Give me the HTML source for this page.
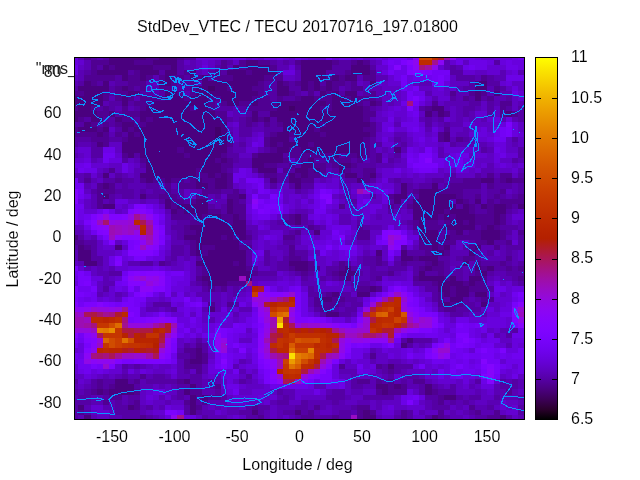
<!DOCTYPE html>
<html><head><meta charset="utf-8"><title>StdDev_VTEC</title>
<style>html,body{margin:0;padding:0;background:#fff}svg{display:block}text{font-family:"Liberation Sans",Arial,sans-serif;font-size:16px;fill:#000;stroke:#fff;stroke-width:.1px}text[stroke=none]{stroke:none;fill:#222}</style></head>
<body>
<svg width="640" height="480" viewBox="0 0 640 480">
<rect width="640" height="480" fill="#fff"/>
<text x="61.5" y="76.81" text-anchor="end" stroke="none" fill="#222">80</text>
<text x="77" y="73.5" text-anchor="end" stroke="none" fill="#222">"rms_</text>
<g shape-rendering="crispEdges">
<rect x="74" y="57" width="451" height="363" fill="#5d01be"/>
<path fill="#43006c" d="M208.4 85.64H214.6V90.79H208.4zM289 106.24H295.2V111.39H289zM214.6 126.84H220.8V131.99H214.6zM214.6 131.99H220.8V137.13H214.6zM214.6 137.13H220.8V142.28H214.6z"/>
<path fill="#4a007f" d="M109.2 58H146.4V59.9H109.2zM158.8 58H177.4V59.9H158.8zM109.2 59.9H134V65.05H109.2zM152.6 59.9H177.4V65.05H152.6zM245.6 59.9H258V65.05H245.6zM301.4 59.9H332.4V65.05H301.4zM357.2 59.9H363.4V65.05H357.2zM103 65.05H109.2V70.2H103zM115.4 65.05H152.6V70.2H115.4zM171.2 65.05H177.4V70.2H171.2zM233.2 65.05H239.4V70.2H233.2zM245.6 65.05H270.4V70.2H245.6zM301.4 65.05H332.4V70.2H301.4zM351 65.05H369.6V70.2H351zM96.8 70.2H127.8V75.35H96.8zM140.2 70.2H158.8V75.35H140.2zM165 70.2H177.4V75.35H165zM189.8 70.2H196V75.35H189.8zM227 70.2H245.6V75.35H227zM251.8 70.2H276.6V75.35H251.8zM301.4 70.2H326.2V75.35H301.4zM351 70.2H369.6V75.35H351zM121.6 75.35H127.8V80.5H121.6zM140.2 75.35H146.4V80.5H140.2zM165 75.35H171.2V80.5H165zM189.8 75.35H196V80.5H189.8zM202.2 75.35H208.4V80.5H202.2zM233.2 75.35H264.2V80.5H233.2zM301.4 75.35H326.2V80.5H301.4zM332.4 75.35H338.6V80.5H332.4zM344.8 75.35H357.2V80.5H344.8zM84.4 80.5H90.6V85.64H84.4zM103 80.5H109.2V85.64H103zM158.8 80.5H171.2V85.64H158.8zM202.2 80.5H258V85.64H202.2zM276.6 80.5H282.8V85.64H276.6zM301.4 80.5H307.6V85.64H301.4zM313.8 80.5H320V85.64H313.8zM326.2 80.5H332.4V85.64H326.2zM369.6 80.5H375.8V85.64H369.6zM475 80.5H487.4V85.64H475zM78.2 85.64H109.2V90.79H78.2zM121.6 85.64H127.8V90.79H121.6zM196 85.64H208.4V90.79H196zM214.6 85.64H227V90.79H214.6zM233.2 85.64H251.8V90.79H233.2zM276.6 85.64H289V90.79H276.6zM301.4 85.64H307.6V90.79H301.4zM313.8 85.64H320V90.79H313.8zM326.2 85.64H332.4V90.79H326.2zM475 85.64H487.4V90.79H475zM84.4 90.79H103V95.94H84.4zM127.8 90.79H140.2V95.94H127.8zM165 90.79H177.4V95.94H165zM196 90.79H258V95.94H196zM276.6 90.79H289V95.94H276.6zM320 90.79H326.2V95.94H320zM332.4 90.79H338.6V95.94H332.4zM344.8 90.79H357.2V95.94H344.8zM475 90.79H481.2V95.94H475zM493.6 90.79H499.8V95.94H493.6zM75 95.94H103V101.09H75zM121.6 95.94H127.8V101.09H121.6zM165 95.94H183.6V101.09H165zM189.8 95.94H208.4V101.09H189.8zM220.8 95.94H251.8V101.09H220.8zM301.4 95.94H313.8V101.09H301.4zM332.4 95.94H344.8V101.09H332.4zM351 95.94H357.2V101.09H351zM475 95.94H481.2V101.09H475zM75 101.09H103V106.24H75zM121.6 101.09H127.8V106.24H121.6zM152.6 101.09H208.4V106.24H152.6zM227 101.09H239.4V106.24H227zM251.8 101.09H258V106.24H251.8zM276.6 101.09H326.2V106.24H276.6zM332.4 101.09H357.2V106.24H332.4zM369.6 101.09H375.8V106.24H369.6zM78.2 106.24H90.6V111.39H78.2zM146.4 106.24H189.8V111.39H146.4zM196 106.24H208.4V111.39H196zM276.6 106.24H289V111.39H276.6zM295.2 106.24H320V111.39H295.2zM332.4 106.24H363.4V111.39H332.4zM431.6 106.24H444V111.39H431.6zM75 111.39H96.8V116.54H75zM109.2 111.39H115.4V116.54H109.2zM140.2 111.39H214.6V116.54H140.2zM251.8 111.39H258V116.54H251.8zM270.4 111.39H363.4V116.54H270.4zM425.4 111.39H431.6V116.54H425.4zM437.8 111.39H444V116.54H437.8zM506 111.39H512.2V116.54H506zM75 116.54H78.2V121.69H75zM90.6 116.54H103V121.69H90.6zM115.4 116.54H121.6V121.69H115.4zM140.2 116.54H146.4V121.69H140.2zM152.6 116.54H220.8V121.69H152.6zM251.8 116.54H258V121.69H251.8zM264.2 116.54H270.4V121.69H264.2zM276.6 116.54H363.4V121.69H276.6zM84.4 121.69H90.6V126.84H84.4zM121.6 121.69H134V126.84H121.6zM146.4 121.69H227V126.84H146.4zM282.8 121.69H320V126.84H282.8zM326.2 121.69H369.6V126.84H326.2zM78.2 126.84H96.8V131.99H78.2zM103 126.84H109.2V131.99H103zM121.6 126.84H127.8V131.99H121.6zM134 126.84H214.6V131.99H134zM220.8 126.84H227V131.99H220.8zM282.8 126.84H313.8V131.99H282.8zM320 126.84H363.4V131.99H320zM96.8 131.99H103V137.13H96.8zM127.8 131.99H134V137.13H127.8zM140.2 131.99H214.6V137.13H140.2zM220.8 131.99H227V137.13H220.8zM276.6 131.99H289V137.13H276.6zM295.2 131.99H320V137.13H295.2zM326.2 131.99H369.6V137.13H326.2zM444 131.99H450.2V137.13H444zM127.8 137.13H214.6V142.28H127.8zM220.8 137.13H227V142.28H220.8zM270.4 137.13H289V142.28H270.4zM295.2 137.13H363.4V142.28H295.2zM444 137.13H450.2V142.28H444zM96.8 142.28H103V147.43H96.8zM121.6 142.28H227V147.43H121.6zM270.4 142.28H276.6V147.43H270.4zM282.8 142.28H307.6V147.43H282.8zM313.8 142.28H363.4V147.43H313.8zM121.6 147.43H177.4V152.58H121.6zM183.6 147.43H227V152.58H183.6zM276.6 147.43H289V152.58H276.6zM301.4 147.43H363.4V152.58H301.4zM394.4 147.43H400.6V152.58H394.4zM127.8 152.58H134V157.73H127.8zM140.2 152.58H183.6V157.73H140.2zM189.8 152.58H220.8V157.73H189.8zM258 152.58H282.8V157.73H258zM332.4 152.58H338.6V157.73H332.4zM357.2 152.58H363.4V157.73H357.2zM146.4 157.73H214.6V162.88H146.4zM220.8 157.73H227V162.88H220.8zM251.8 157.73H282.8V162.88H251.8zM307.6 157.73H313.8V162.88H307.6zM146.4 162.88H220.8V168.03H146.4zM251.8 162.88H264.2V168.03H251.8zM301.4 162.88H313.8V168.03H301.4zM338.6 162.88H351V168.03H338.6zM146.4 168.03H196V173.18H146.4zM202.2 168.03H220.8V173.18H202.2zM258 168.03H276.6V173.18H258zM295.2 168.03H307.6V173.18H295.2zM313.8 168.03H320V173.18H313.8zM338.6 168.03H344.8V173.18H338.6zM103 173.18H109.2V178.33H103zM140.2 173.18H196V178.33H140.2zM208.4 173.18H214.6V178.33H208.4zM220.8 173.18H227V178.33H220.8zM289 173.18H295.2V178.33H289zM301.4 173.18H307.6V178.33H301.4zM344.8 173.18H357.2V178.33H344.8zM369.6 173.18H375.8V178.33H369.6zM146.4 178.33H152.6V183.48H146.4zM165 178.33H171.2V183.48H165zM196 178.33H202.2V183.48H196zM214.6 178.33H227V183.48H214.6zM270.4 178.33H276.6V183.48H270.4zM289 178.33H301.4V183.48H289zM357.2 178.33H363.4V183.48H357.2zM481.2 178.33H493.6V183.48H481.2zM506 178.33H512.2V183.48H506zM103 183.48H109.2V188.62H103zM196 183.48H208.4V188.62H196zM214.6 183.48H227V188.62H214.6zM295.2 183.48H301.4V188.62H295.2zM400.6 183.48H406.8V188.62H400.6zM431.6 183.48H437.8V188.62H431.6zM400.6 188.62H406.8V193.77H400.6zM419.2 188.62H437.8V193.77H419.2zM103 193.77H109.2V198.92H103zM140.2 193.77H146.4V198.92H140.2zM239.4 193.77H245.6V198.92H239.4zM394.4 193.77H406.8V198.92H394.4zM419.2 193.77H456.4V198.92H419.2zM165 198.92H171.2V204.07H165zM196 198.92H208.4V204.07H196zM227 198.92H233.2V204.07H227zM394.4 198.92H400.6V204.07H394.4zM413 198.92H450.2V204.07H413zM456.4 198.92H462.6V204.07H456.4zM475 198.92H481.2V204.07H475zM103 204.07H115.4V209.22H103zM165 204.07H171.2V209.22H165zM177.4 204.07H208.4V209.22H177.4zM227 204.07H233.2V209.22H227zM413 204.07H456.4V209.22H413zM462.6 204.07H468.8V209.22H462.6zM481.2 204.07H487.4V209.22H481.2zM493.6 204.07H506V209.22H493.6zM518.4 204.07H524V209.22H518.4zM171.2 209.22H177.4V214.37H171.2zM183.6 209.22H208.4V214.37H183.6zM227 209.22H233.2V214.37H227zM413 209.22H444V214.37H413zM450.2 209.22H468.8V214.37H450.2zM493.6 209.22H506V214.37H493.6zM196 214.37H202.2V219.52H196zM208.4 214.37H220.8V219.52H208.4zM233.2 214.37H239.4V219.52H233.2zM295.2 214.37H301.4V219.52H295.2zM413 214.37H437.8V219.52H413zM444 214.37H450.2V219.52H444zM456.4 214.37H475V219.52H456.4zM493.6 214.37H499.8V219.52H493.6zM202.2 219.52H227V224.67H202.2zM233.2 219.52H245.6V224.67H233.2zM295.2 219.52H301.4V224.67H295.2zM419.2 219.52H425.4V224.67H419.2zM450.2 219.52H462.6V224.67H450.2zM468.8 219.52H475V224.67H468.8zM493.6 219.52H499.8V224.67H493.6zM189.8 224.67H245.6V229.82H189.8zM419.2 224.67H425.4V229.82H419.2zM444 224.67H475V229.82H444zM487.4 224.67H493.6V229.82H487.4zM196 229.82H245.6V234.97H196zM313.8 229.82H320V234.97H313.8zM419.2 229.82H437.8V234.97H419.2zM456.4 229.82H462.6V234.97H456.4zM481.2 229.82H499.8V234.97H481.2zM75 234.97H78.2V240.12H75zM183.6 234.97H220.8V240.12H183.6zM227 234.97H233.2V240.12H227zM239.4 234.97H245.6V240.12H239.4zM419.2 234.97H437.8V240.12H419.2zM444 234.97H450.2V240.12H444zM481.2 234.97H499.8V240.12H481.2zM196 240.12H239.4V245.26H196zM425.4 240.12H437.8V245.26H425.4zM487.4 240.12H493.6V245.26H487.4zM78.2 245.26H84.4V250.41H78.2zM115.4 245.26H121.6V250.41H115.4zM196 245.26H202.2V250.41H196zM214.6 245.26H239.4V250.41H214.6zM431.6 245.26H437.8V250.41H431.6zM444 245.26H450.2V250.41H444zM475 245.26H481.2V250.41H475zM78.2 250.41H90.6V255.56H78.2zM196 250.41H202.2V255.56H196zM208.4 250.41H245.6V255.56H208.4zM375.8 250.41H382V255.56H375.8zM400.6 250.41H406.8V255.56H400.6zM431.6 250.41H444V255.56H431.6zM468.8 250.41H475V255.56H468.8zM78.2 255.56H90.6V260.71H78.2zM202.2 255.56H245.6V260.71H202.2zM400.6 255.56H413V260.71H400.6zM419.2 255.56H437.8V260.71H419.2zM84.4 260.71H96.8V265.86H84.4zM196 260.71H233.2V265.86H196zM239.4 260.71H245.6V265.86H239.4zM289 260.71H307.6V265.86H289zM431.6 260.71H437.8V265.86H431.6zM462.6 260.71H468.8V265.86H462.6zM208.4 265.86H245.6V271.01H208.4zM295.2 265.86H307.6V271.01H295.2zM344.8 265.86H351V271.01H344.8zM425.4 265.86H431.6V271.01H425.4zM475 265.86H481.2V271.01H475zM487.4 265.86H493.6V271.01H487.4zM208.4 271.01H251.8V276.16H208.4zM338.6 271.01H357.2V276.16H338.6zM419.2 271.01H425.4V276.16H419.2zM481.2 271.01H487.4V276.16H481.2zM202.2 276.16H239.4V281.31H202.2zM245.6 276.16H251.8V281.31H245.6zM344.8 276.16H351V281.31H344.8zM419.2 276.16H444V281.31H419.2zM450.2 276.16H456.4V281.31H450.2zM468.8 276.16H481.2V281.31H468.8zM208.4 281.31H227V286.46H208.4zM437.8 281.31H462.6V286.46H437.8zM468.8 281.31H475V286.46H468.8zM369.6 286.46H375.8V291.61H369.6zM437.8 286.46H450.2V291.61H437.8zM456.4 286.46H468.8V291.61H456.4zM332.4 291.61H338.6V296.75H332.4zM357.2 291.61H369.6V296.75H357.2zM444 291.61H450.2V296.75H444zM456.4 291.61H468.8V296.75H456.4zM475 291.61H487.4V296.75H475zM320 296.75H332.4V301.9H320zM450.2 296.75H462.6V301.9H450.2zM444 301.9H450.2V307.05H444zM481.2 301.9H487.4V307.05H481.2zM208.4 307.05H214.6V312.2H208.4zM326.2 312.2H338.6V317.35H326.2zM406.8 337.95H413V343.09H406.8zM400.6 343.09H406.8V348.24H400.6zM196 348.24H202.2V353.39H196zM196 353.39H202.2V358.54H196zM189.8 358.54H202.2V363.69H189.8zM388.2 363.69H394.4V368.84H388.2zM115.4 379.14H127.8V384.29H115.4zM183.6 379.14H189.8V384.29H183.6zM115.4 384.29H134V389.44H115.4zM189.8 384.29H196V389.44H189.8zM375.8 384.29H388.2V389.44H375.8zM394.4 384.29H400.6V389.44H394.4zM425.4 384.29H431.6V389.44H425.4zM96.8 389.44H103V394.58H96.8zM109.2 389.44H134V394.58H109.2zM183.6 389.44H189.8V394.58H183.6zM382 389.44H388.2V394.58H382zM425.4 389.44H431.6V394.58H425.4zM189.8 394.58H196V399.73H189.8zM202.2 394.58H208.4V399.73H202.2zM444 394.58H456.4V399.73H444zM189.8 399.73H196V404.88H189.8zM78.2 404.88H84.4V410.03H78.2zM127.8 404.88H134V410.03H127.8zM189.8 404.88H196V410.03H189.8zM189.8 410.03H196V415.18H189.8zM251.8 410.03H258V415.18H251.8zM295.2 410.03H301.4V415.18H295.2zM363.4 410.03H369.6V415.18H363.4zM84.4 415.18H90.6V419H84.4zM363.4 415.18H375.8V419H363.4zM431.6 415.18H437.8V419H431.6zM499.8 415.18H506V419H499.8z"/>
<path fill="#500092" d="M84.4 58H90.6V59.9H84.4zM146.4 58H158.8V59.9H146.4zM177.4 58H183.6V59.9H177.4zM90.6 59.9H109.2V65.05H90.6zM134 59.9H152.6V65.05H134zM220.8 59.9H227V65.05H220.8zM239.4 59.9H245.6V65.05H239.4zM258 59.9H270.4V65.05H258zM295.2 59.9H301.4V65.05H295.2zM332.4 59.9H338.6V65.05H332.4zM351 59.9H357.2V65.05H351zM363.4 59.9H369.6V65.05H363.4zM90.6 65.05H96.8V70.2H90.6zM109.2 65.05H115.4V70.2H109.2zM152.6 65.05H171.2V70.2H152.6zM220.8 65.05H227V70.2H220.8zM239.4 65.05H245.6V70.2H239.4zM270.4 65.05H276.6V70.2H270.4zM90.6 70.2H96.8V75.35H90.6zM134 70.2H140.2V75.35H134zM183.6 70.2H189.8V75.35H183.6zM214.6 70.2H220.8V75.35H214.6zM245.6 70.2H251.8V75.35H245.6zM344.8 70.2H351V75.35H344.8zM369.6 70.2H375.8V75.35H369.6zM84.4 75.35H115.4V80.5H84.4zM127.8 75.35H140.2V80.5H127.8zM146.4 75.35H152.6V80.5H146.4zM158.8 75.35H165V80.5H158.8zM171.2 75.35H183.6V80.5H171.2zM196 75.35H202.2V80.5H196zM214.6 75.35H233.2V80.5H214.6zM264.2 75.35H282.8V80.5H264.2zM326.2 75.35H332.4V80.5H326.2zM338.6 75.35H344.8V80.5H338.6zM363.4 75.35H375.8V80.5H363.4zM481.2 75.35H487.4V80.5H481.2zM90.6 80.5H96.8V85.64H90.6zM127.8 80.5H146.4V85.64H127.8zM171.2 80.5H177.4V85.64H171.2zM189.8 80.5H196V85.64H189.8zM258 80.5H264.2V85.64H258zM282.8 80.5H289V85.64H282.8zM295.2 80.5H301.4V85.64H295.2zM307.6 80.5H313.8V85.64H307.6zM332.4 80.5H344.8V85.64H332.4zM351 80.5H357.2V85.64H351zM115.4 85.64H121.6V90.79H115.4zM127.8 85.64H134V90.79H127.8zM140.2 85.64H146.4V90.79H140.2zM158.8 85.64H171.2V90.79H158.8zM189.8 85.64H196V90.79H189.8zM227 85.64H233.2V90.79H227zM251.8 85.64H264.2V90.79H251.8zM307.6 85.64H313.8V90.79H307.6zM320 85.64H326.2V90.79H320zM332.4 85.64H338.6V90.79H332.4zM351 85.64H363.4V90.79H351zM493.6 85.64H499.8V90.79H493.6zM75 90.79H84.4V95.94H75zM103 90.79H109.2V95.94H103zM115.4 90.79H127.8V95.94H115.4zM177.4 90.79H183.6V95.94H177.4zM189.8 90.79H196V95.94H189.8zM258 90.79H264.2V95.94H258zM289 90.79H295.2V95.94H289zM307.6 90.79H313.8V95.94H307.6zM326.2 90.79H332.4V95.94H326.2zM369.6 90.79H375.8V95.94H369.6zM450.2 90.79H456.4V95.94H450.2zM468.8 90.79H475V95.94H468.8zM481.2 90.79H487.4V95.94H481.2zM103 95.94H109.2V101.09H103zM115.4 95.94H121.6V101.09H115.4zM127.8 95.94H134V101.09H127.8zM140.2 95.94H165V101.09H140.2zM183.6 95.94H189.8V101.09H183.6zM208.4 95.94H220.8V101.09H208.4zM251.8 95.94H270.4V101.09H251.8zM276.6 95.94H282.8V101.09H276.6zM295.2 95.94H301.4V101.09H295.2zM313.8 95.94H332.4V101.09H313.8zM344.8 95.94H351V101.09H344.8zM357.2 95.94H375.8V101.09H357.2zM462.6 95.94H468.8V101.09H462.6zM487.4 95.94H493.6V101.09H487.4zM134 101.09H152.6V106.24H134zM208.4 101.09H214.6V106.24H208.4zM220.8 101.09H227V106.24H220.8zM239.4 101.09H251.8V106.24H239.4zM258 101.09H276.6V106.24H258zM326.2 101.09H332.4V106.24H326.2zM357.2 101.09H363.4V106.24H357.2zM375.8 101.09H382V106.24H375.8zM431.6 101.09H437.8V106.24H431.6zM499.8 101.09H512.2V106.24H499.8zM75 106.24H78.2V111.39H75zM90.6 106.24H96.8V111.39H90.6zM103 106.24H109.2V111.39H103zM121.6 106.24H127.8V111.39H121.6zM140.2 106.24H146.4V111.39H140.2zM189.8 106.24H196V111.39H189.8zM208.4 106.24H214.6V111.39H208.4zM245.6 106.24H276.6V111.39H245.6zM320 106.24H332.4V111.39H320zM363.4 106.24H369.6V111.39H363.4zM425.4 106.24H431.6V111.39H425.4zM499.8 106.24H506V111.39H499.8zM96.8 111.39H109.2V116.54H96.8zM121.6 111.39H140.2V116.54H121.6zM214.6 111.39H227V116.54H214.6zM363.4 111.39H375.8V116.54H363.4zM444 111.39H450.2V116.54H444zM499.8 111.39H506V116.54H499.8zM512.2 111.39H518.4V116.54H512.2zM78.2 116.54H84.4V121.69H78.2zM121.6 116.54H134V121.69H121.6zM146.4 116.54H152.6V121.69H146.4zM220.8 116.54H227V121.69H220.8zM245.6 116.54H251.8V121.69H245.6zM258 116.54H264.2V121.69H258zM363.4 116.54H369.6V121.69H363.4zM90.6 121.69H96.8V126.84H90.6zM103 121.69H109.2V126.84H103zM115.4 121.69H121.6V126.84H115.4zM134 121.69H146.4V126.84H134zM245.6 121.69H251.8V126.84H245.6zM264.2 121.69H270.4V126.84H264.2zM276.6 121.69H282.8V126.84H276.6zM320 121.69H326.2V126.84H320zM369.6 121.69H375.8V126.84H369.6zM75 126.84H78.2V131.99H75zM96.8 126.84H103V131.99H96.8zM127.8 126.84H134V131.99H127.8zM313.8 126.84H320V131.99H313.8zM363.4 126.84H375.8V131.99H363.4zM444 126.84H450.2V131.99H444zM75 131.99H96.8V137.13H75zM103 131.99H109.2V137.13H103zM115.4 131.99H121.6V137.13H115.4zM134 131.99H140.2V137.13H134zM270.4 131.99H276.6V137.13H270.4zM289 131.99H295.2V137.13H289zM320 131.99H326.2V137.13H320zM369.6 131.99H375.8V137.13H369.6zM437.8 131.99H444V137.13H437.8zM90.6 137.13H109.2V142.28H90.6zM121.6 137.13H127.8V142.28H121.6zM227 137.13H233.2V142.28H227zM264.2 137.13H270.4V142.28H264.2zM363.4 137.13H369.6V142.28H363.4zM437.8 137.13H444V142.28H437.8zM456.4 137.13H462.6V142.28H456.4zM103 142.28H109.2V147.43H103zM227 142.28H233.2V147.43H227zM264.2 142.28H270.4V147.43H264.2zM276.6 142.28H282.8V147.43H276.6zM307.6 142.28H313.8V147.43H307.6zM363.4 142.28H369.6V147.43H363.4zM177.4 147.43H183.6V152.58H177.4zM270.4 147.43H276.6V152.58H270.4zM289 147.43H301.4V152.58H289zM363.4 147.43H369.6V152.58H363.4zM121.6 152.58H127.8V157.73H121.6zM183.6 152.58H189.8V157.73H183.6zM220.8 152.58H227V157.73H220.8zM251.8 152.58H258V157.73H251.8zM289 152.58H332.4V157.73H289zM344.8 152.58H357.2V157.73H344.8zM363.4 152.58H369.6V157.73H363.4zM375.8 152.58H382V157.73H375.8zM140.2 157.73H146.4V162.88H140.2zM214.6 157.73H220.8V162.88H214.6zM227 157.73H233.2V162.88H227zM282.8 157.73H289V162.88H282.8zM301.4 157.73H307.6V162.88H301.4zM326.2 157.73H351V162.88H326.2zM357.2 157.73H363.4V162.88H357.2zM375.8 157.73H382V162.88H375.8zM220.8 162.88H233.2V168.03H220.8zM264.2 162.88H276.6V168.03H264.2zM289 162.88H295.2V168.03H289zM313.8 162.88H326.2V168.03H313.8zM332.4 162.88H338.6V168.03H332.4zM351 162.88H357.2V168.03H351zM109.2 168.03H115.4V173.18H109.2zM196 168.03H202.2V173.18H196zM220.8 168.03H227V173.18H220.8zM282.8 168.03H289V173.18H282.8zM307.6 168.03H313.8V173.18H307.6zM320 168.03H326.2V173.18H320zM344.8 168.03H351V173.18H344.8zM363.4 168.03H375.8V173.18H363.4zM196 173.18H208.4V178.33H196zM214.6 173.18H220.8V178.33H214.6zM227 173.18H233.2V178.33H227zM264.2 173.18H276.6V178.33H264.2zM295.2 173.18H301.4V178.33H295.2zM307.6 173.18H320V178.33H307.6zM363.4 173.18H369.6V178.33H363.4zM487.4 173.18H493.6V178.33H487.4zM499.8 173.18H512.2V178.33H499.8zM84.4 178.33H90.6V183.48H84.4zM115.4 178.33H121.6V183.48H115.4zM140.2 178.33H146.4V183.48H140.2zM152.6 178.33H165V183.48H152.6zM171.2 178.33H183.6V183.48H171.2zM189.8 178.33H196V183.48H189.8zM202.2 178.33H214.6V183.48H202.2zM227 178.33H233.2V183.48H227zM301.4 178.33H313.8V183.48H301.4zM363.4 178.33H369.6V183.48H363.4zM462.6 178.33H481.2V183.48H462.6zM499.8 178.33H506V183.48H499.8zM512.2 178.33H524V183.48H512.2zM96.8 183.48H103V188.62H96.8zM109.2 183.48H115.4V188.62H109.2zM165 183.48H171.2V188.62H165zM177.4 183.48H196V188.62H177.4zM208.4 183.48H214.6V188.62H208.4zM227 183.48H233.2V188.62H227zM450.2 183.48H481.2V188.62H450.2zM487.4 183.48H493.6V188.62H487.4zM96.8 188.62H115.4V193.77H96.8zM165 188.62H171.2V193.77H165zM202.2 188.62H220.8V193.77H202.2zM233.2 188.62H239.4V193.77H233.2zM413 188.62H419.2V193.77H413zM437.8 188.62H462.6V193.77H437.8zM499.8 188.62H506V193.77H499.8zM96.8 193.77H103V198.92H96.8zM158.8 193.77H177.4V198.92H158.8zM196 193.77H208.4V198.92H196zM227 193.77H239.4V198.92H227zM388.2 193.77H394.4V198.92H388.2zM456.4 193.77H462.6V198.92H456.4zM475 193.77H481.2V198.92H475zM493.6 193.77H499.8V198.92H493.6zM518.4 193.77H524V198.92H518.4zM96.8 198.92H103V204.07H96.8zM171.2 198.92H183.6V204.07H171.2zM189.8 198.92H196V204.07H189.8zM233.2 198.92H239.4V204.07H233.2zM462.6 198.92H468.8V204.07H462.6zM487.4 198.92H493.6V204.07H487.4zM499.8 198.92H524V204.07H499.8zM96.8 204.07H103V209.22H96.8zM171.2 204.07H177.4V209.22H171.2zM233.2 204.07H245.6V209.22H233.2zM338.6 204.07H344.8V209.22H338.6zM388.2 204.07H394.4V209.22H388.2zM406.8 204.07H413V209.22H406.8zM468.8 204.07H475V209.22H468.8zM487.4 204.07H493.6V209.22H487.4zM506 204.07H512.2V209.22H506zM177.4 209.22H183.6V214.37H177.4zM208.4 209.22H220.8V214.37H208.4zM233.2 209.22H245.6V214.37H233.2zM444 209.22H450.2V214.37H444zM468.8 209.22H475V214.37H468.8zM487.4 209.22H493.6V214.37H487.4zM171.2 214.37H189.8V219.52H171.2zM202.2 214.37H208.4V219.52H202.2zM220.8 214.37H233.2V219.52H220.8zM239.4 214.37H245.6V219.52H239.4zM289 214.37H295.2V219.52H289zM437.8 214.37H444V219.52H437.8zM450.2 214.37H456.4V219.52H450.2zM475 214.37H493.6V219.52H475zM499.8 214.37H506V219.52H499.8zM189.8 219.52H202.2V224.67H189.8zM227 219.52H233.2V224.67H227zM282.8 219.52H295.2V224.67H282.8zM413 219.52H419.2V224.67H413zM425.4 219.52H437.8V224.67H425.4zM444 219.52H450.2V224.67H444zM462.6 219.52H468.8V224.67H462.6zM475 219.52H493.6V224.67H475zM499.8 219.52H506V224.67H499.8zM183.6 224.67H189.8V229.82H183.6zM307.6 224.67H313.8V229.82H307.6zM357.2 224.67H363.4V229.82H357.2zM413 224.67H419.2V229.82H413zM425.4 224.67H444V229.82H425.4zM481.2 224.67H487.4V229.82H481.2zM493.6 224.67H499.8V229.82H493.6zM183.6 229.82H196V234.97H183.6zM295.2 229.82H301.4V234.97H295.2zM357.2 229.82H369.6V234.97H357.2zM450.2 229.82H456.4V234.97H450.2zM468.8 229.82H481.2V234.97H468.8zM499.8 229.82H506V234.97H499.8zM518.4 229.82H524V234.97H518.4zM220.8 234.97H227V240.12H220.8zM233.2 234.97H239.4V240.12H233.2zM245.6 234.97H251.8V240.12H245.6zM282.8 234.97H295.2V240.12H282.8zM357.2 234.97H369.6V240.12H357.2zM450.2 234.97H481.2V240.12H450.2zM499.8 234.97H506V240.12H499.8zM75 240.12H84.4V245.26H75zM189.8 240.12H196V245.26H189.8zM419.2 240.12H425.4V245.26H419.2zM437.8 240.12H456.4V245.26H437.8zM475 240.12H487.4V245.26H475zM506 240.12H512.2V245.26H506zM84.4 245.26H90.6V250.41H84.4zM189.8 245.26H196V250.41H189.8zM202.2 245.26H214.6V250.41H202.2zM239.4 245.26H251.8V250.41H239.4zM289 245.26H295.2V250.41H289zM419.2 245.26H431.6V250.41H419.2zM437.8 245.26H444V250.41H437.8zM468.8 245.26H475V250.41H468.8zM493.6 245.26H499.8V250.41H493.6zM189.8 250.41H196V255.56H189.8zM202.2 250.41H208.4V255.56H202.2zM289 250.41H295.2V255.56H289zM425.4 250.41H431.6V255.56H425.4zM444 250.41H450.2V255.56H444zM289 255.56H301.4V260.71H289zM375.8 255.56H382V260.71H375.8zM413 255.56H419.2V260.71H413zM462.6 255.56H475V260.71H462.6zM506 255.56H512.2V260.71H506zM158.8 260.71H165V265.86H158.8zM233.2 260.71H239.4V265.86H233.2zM307.6 260.71H313.8V265.86H307.6zM338.6 260.71H344.8V265.86H338.6zM375.8 260.71H382V265.86H375.8zM400.6 260.71H406.8V265.86H400.6zM425.4 260.71H431.6V265.86H425.4zM437.8 260.71H444V265.86H437.8zM475 260.71H481.2V265.86H475zM499.8 260.71H506V265.86H499.8zM202.2 265.86H208.4V271.01H202.2zM245.6 265.86H251.8V271.01H245.6zM289 265.86H295.2V271.01H289zM307.6 265.86H320V271.01H307.6zM338.6 265.86H344.8V271.01H338.6zM419.2 265.86H425.4V271.01H419.2zM431.6 265.86H444V271.01H431.6zM481.2 265.86H487.4V271.01H481.2zM506 265.86H512.2V271.01H506zM518.4 265.86H524V271.01H518.4zM202.2 271.01H208.4V276.16H202.2zM251.8 271.01H258V276.16H251.8zM301.4 271.01H307.6V276.16H301.4zM332.4 271.01H338.6V276.16H332.4zM388.2 271.01H394.4V276.16H388.2zM437.8 271.01H444V276.16H437.8zM475 271.01H481.2V276.16H475zM196 276.16H202.2V281.31H196zM338.6 276.16H344.8V281.31H338.6zM375.8 276.16H382V281.31H375.8zM413 276.16H419.2V281.31H413zM444 276.16H450.2V281.31H444zM481.2 276.16H487.4V281.31H481.2zM518.4 276.16H524V281.31H518.4zM202.2 281.31H208.4V286.46H202.2zM227 281.31H245.6V286.46H227zM431.6 281.31H437.8V286.46H431.6zM462.6 281.31H468.8V286.46H462.6zM475 281.31H487.4V286.46H475zM208.4 286.46H214.6V291.61H208.4zM220.8 286.46H227V291.61H220.8zM357.2 286.46H369.6V291.61H357.2zM375.8 286.46H382V291.61H375.8zM450.2 286.46H456.4V291.61H450.2zM468.8 286.46H487.4V291.61H468.8zM326.2 291.61H332.4V296.75H326.2zM437.8 291.61H444V296.75H437.8zM450.2 291.61H456.4V296.75H450.2zM313.8 296.75H320V301.9H313.8zM332.4 296.75H344.8V301.9H332.4zM437.8 296.75H444V301.9H437.8zM481.2 296.75H493.6V301.9H481.2zM208.4 301.9H214.6V307.05H208.4zM227 301.9H233.2V307.05H227zM313.8 301.9H338.6V307.05H313.8zM437.8 301.9H444V307.05H437.8zM450.2 301.9H462.6V307.05H450.2zM320 307.05H332.4V312.2H320zM444 307.05H456.4V312.2H444zM196 343.09H202.2V348.24H196zM183.6 348.24H196V353.39H183.6zM189.8 353.39H196V358.54H189.8zM202.2 353.39H208.4V358.54H202.2zM369.6 353.39H375.8V358.54H369.6zM183.6 358.54H189.8V363.69H183.6zM202.2 358.54H208.4V363.69H202.2zM183.6 363.69H202.2V368.84H183.6zM338.6 363.69H344.8V368.84H338.6zM375.8 363.69H382V368.84H375.8zM196 368.84H202.2V373.99H196zM388.2 368.84H394.4V373.99H388.2zM140.2 373.99H146.4V379.14H140.2zM96.8 379.14H103V384.29H96.8zM134 379.14H140.2V384.29H134zM177.4 379.14H183.6V384.29H177.4zM357.2 379.14H369.6V384.29H357.2zM375.8 379.14H382V384.29H375.8zM388.2 379.14H394.4V384.29H388.2zM413 379.14H425.4V384.29H413zM96.8 384.29H103V389.44H96.8zM109.2 384.29H115.4V389.44H109.2zM214.6 384.29H220.8V389.44H214.6zM388.2 384.29H394.4V389.44H388.2zM400.6 384.29H406.8V389.44H400.6zM90.6 389.44H96.8V394.58H90.6zM103 389.44H109.2V394.58H103zM134 389.44H140.2V394.58H134zM189.8 389.44H202.2V394.58H189.8zM375.8 389.44H382V394.58H375.8zM388.2 389.44H406.8V394.58H388.2zM431.6 389.44H437.8V394.58H431.6zM506 389.44H512.2V394.58H506zM109.2 394.58H121.6V399.73H109.2zM196 394.58H202.2V399.73H196zM208.4 394.58H220.8V399.73H208.4zM437.8 394.58H444V399.73H437.8zM103 399.73H109.2V404.88H103zM134 399.73H140.2V404.88H134zM183.6 399.73H189.8V404.88H183.6zM202.2 399.73H208.4V404.88H202.2zM437.8 399.73H444V404.88H437.8zM134 404.88H140.2V410.03H134zM196 404.88H202.2V410.03H196zM251.8 404.88H258V410.03H251.8zM313.8 404.88H320V410.03H313.8zM357.2 404.88H369.6V410.03H357.2zM468.8 404.88H475V410.03H468.8zM78.2 410.03H84.4V415.18H78.2zM307.6 410.03H313.8V415.18H307.6zM357.2 410.03H363.4V415.18H357.2zM369.6 410.03H375.8V415.18H369.6zM400.6 410.03H406.8V415.18H400.6zM437.8 410.03H444V415.18H437.8zM475 410.03H481.2V415.18H475zM493.6 410.03H499.8V415.18H493.6zM140.2 415.18H146.4V419H140.2zM258 415.18H264.2V419H258zM301.4 415.18H313.8V419H301.4zM332.4 415.18H338.6V419H332.4zM357.2 415.18H363.4V419H357.2zM400.6 415.18H406.8V419H400.6zM437.8 415.18H444V419H437.8zM487.4 415.18H499.8V419H487.4z"/>
<path fill="#5500a4" d="M90.6 58H96.8V59.9H90.6zM103 58H109.2V59.9H103zM183.6 58H196V59.9H183.6zM177.4 59.9H183.6V65.05H177.4zM227 59.9H233.2V65.05H227zM270.4 59.9H276.6V65.05H270.4zM282.8 59.9H289V65.05H282.8zM338.6 59.9H351V65.05H338.6zM493.6 59.9H499.8V65.05H493.6zM96.8 65.05H103V70.2H96.8zM177.4 65.05H183.6V70.2H177.4zM214.6 65.05H220.8V70.2H214.6zM295.2 65.05H301.4V70.2H295.2zM332.4 65.05H351V70.2H332.4zM369.6 65.05H375.8V70.2H369.6zM450.2 65.05H456.4V70.2H450.2zM84.4 70.2H90.6V75.35H84.4zM127.8 70.2H134V75.35H127.8zM158.8 70.2H165V75.35H158.8zM177.4 70.2H183.6V75.35H177.4zM208.4 70.2H214.6V75.35H208.4zM220.8 70.2H227V75.35H220.8zM276.6 70.2H282.8V75.35H276.6zM326.2 70.2H344.8V75.35H326.2zM450.2 70.2H462.6V75.35H450.2zM115.4 75.35H121.6V80.5H115.4zM183.6 75.35H189.8V80.5H183.6zM208.4 75.35H214.6V80.5H208.4zM456.4 75.35H475V80.5H456.4zM487.4 75.35H493.6V80.5H487.4zM78.2 80.5H84.4V85.64H78.2zM96.8 80.5H103V85.64H96.8zM115.4 80.5H127.8V85.64H115.4zM177.4 80.5H189.8V85.64H177.4zM264.2 80.5H276.6V85.64H264.2zM289 80.5H295.2V85.64H289zM320 80.5H326.2V85.64H320zM344.8 80.5H351V85.64H344.8zM468.8 80.5H475V85.64H468.8zM487.4 80.5H499.8V85.64H487.4zM75 85.64H78.2V90.79H75zM109.2 85.64H115.4V90.79H109.2zM134 85.64H140.2V90.79H134zM171.2 85.64H189.8V90.79H171.2zM264.2 85.64H276.6V90.79H264.2zM289 85.64H301.4V90.79H289zM344.8 85.64H351V90.79H344.8zM462.6 85.64H475V90.79H462.6zM499.8 85.64H506V90.79H499.8zM109.2 90.79H115.4V95.94H109.2zM140.2 90.79H152.6V95.94H140.2zM158.8 90.79H165V95.94H158.8zM264.2 90.79H276.6V95.94H264.2zM295.2 90.79H301.4V95.94H295.2zM338.6 90.79H344.8V95.94H338.6zM363.4 90.79H369.6V95.94H363.4zM270.4 95.94H276.6V101.09H270.4zM282.8 95.94H295.2V101.09H282.8zM375.8 95.94H382V101.09H375.8zM450.2 95.94H456.4V101.09H450.2zM468.8 95.94H475V101.09H468.8zM481.2 95.94H487.4V101.09H481.2zM506 95.94H512.2V101.09H506zM109.2 101.09H121.6V106.24H109.2zM127.8 101.09H134V106.24H127.8zM214.6 101.09H220.8V106.24H214.6zM363.4 101.09H369.6V106.24H363.4zM468.8 101.09H481.2V106.24H468.8zM487.4 101.09H493.6V106.24H487.4zM96.8 106.24H103V111.39H96.8zM109.2 106.24H115.4V111.39H109.2zM134 106.24H140.2V111.39H134zM214.6 106.24H233.2V111.39H214.6zM239.4 106.24H245.6V111.39H239.4zM369.6 106.24H375.8V111.39H369.6zM419.2 106.24H425.4V111.39H419.2zM462.6 106.24H475V111.39H462.6zM487.4 106.24H493.6V111.39H487.4zM506 106.24H512.2V111.39H506zM518.4 106.24H524V111.39H518.4zM115.4 111.39H121.6V116.54H115.4zM245.6 111.39H251.8V116.54H245.6zM258 111.39H270.4V116.54H258zM431.6 111.39H437.8V116.54H431.6zM462.6 111.39H468.8V116.54H462.6zM487.4 111.39H493.6V116.54H487.4zM518.4 111.39H524V116.54H518.4zM84.4 116.54H90.6V121.69H84.4zM103 116.54H115.4V121.69H103zM134 116.54H140.2V121.69H134zM227 116.54H233.2V121.69H227zM239.4 116.54H245.6V121.69H239.4zM270.4 116.54H276.6V121.69H270.4zM425.4 116.54H431.6V121.69H425.4zM437.8 116.54H444V121.69H437.8zM518.4 116.54H524V121.69H518.4zM75 121.69H84.4V126.84H75zM96.8 121.69H103V126.84H96.8zM109.2 121.69H115.4V126.84H109.2zM239.4 121.69H245.6V126.84H239.4zM251.8 121.69H258V126.84H251.8zM270.4 121.69H276.6V126.84H270.4zM425.4 121.69H431.6V126.84H425.4zM444 121.69H450.2V126.84H444zM115.4 126.84H121.6V131.99H115.4zM239.4 126.84H251.8V131.99H239.4zM264.2 126.84H282.8V131.99H264.2zM121.6 131.99H127.8V137.13H121.6zM227 131.99H233.2V137.13H227zM239.4 131.99H251.8V137.13H239.4zM264.2 131.99H270.4V137.13H264.2zM75 137.13H90.6V142.28H75zM109.2 137.13H121.6V142.28H109.2zM289 137.13H295.2V142.28H289zM369.6 137.13H375.8V142.28H369.6zM394.4 137.13H400.6V142.28H394.4zM462.6 137.13H468.8V142.28H462.6zM512.2 137.13H518.4V142.28H512.2zM75 142.28H78.2V147.43H75zM90.6 142.28H96.8V147.43H90.6zM239.4 142.28H245.6V147.43H239.4zM369.6 142.28H382V147.43H369.6zM400.6 142.28H406.8V147.43H400.6zM450.2 142.28H456.4V147.43H450.2zM90.6 147.43H103V152.58H90.6zM227 147.43H233.2V152.58H227zM264.2 147.43H270.4V152.58H264.2zM369.6 147.43H375.8V152.58H369.6zM481.2 147.43H487.4V152.58H481.2zM518.4 147.43H524V152.58H518.4zM90.6 152.58H103V157.73H90.6zM134 152.58H140.2V157.73H134zM227 152.58H239.4V157.73H227zM282.8 152.58H289V157.73H282.8zM338.6 152.58H344.8V157.73H338.6zM369.6 152.58H375.8V157.73H369.6zM394.4 152.58H400.6V157.73H394.4zM518.4 152.58H524V157.73H518.4zM121.6 157.73H127.8V162.88H121.6zM233.2 157.73H239.4V162.88H233.2zM295.2 157.73H301.4V162.88H295.2zM313.8 157.73H326.2V162.88H313.8zM351 157.73H357.2V162.88H351zM369.6 157.73H375.8V162.88H369.6zM388.2 157.73H394.4V162.88H388.2zM512.2 157.73H518.4V162.88H512.2zM140.2 162.88H146.4V168.03H140.2zM276.6 162.88H289V168.03H276.6zM295.2 162.88H301.4V168.03H295.2zM326.2 162.88H332.4V168.03H326.2zM357.2 162.88H375.8V168.03H357.2zM227 168.03H233.2V173.18H227zM251.8 168.03H258V173.18H251.8zM289 168.03H295.2V173.18H289zM332.4 168.03H338.6V173.18H332.4zM351 168.03H363.4V173.18H351zM84.4 173.18H90.6V178.33H84.4zM115.4 173.18H121.6V178.33H115.4zM276.6 173.18H289V178.33H276.6zM320 173.18H326.2V178.33H320zM338.6 173.18H344.8V178.33H338.6zM357.2 173.18H363.4V178.33H357.2zM450.2 173.18H456.4V178.33H450.2zM475 173.18H481.2V178.33H475zM518.4 173.18H524V178.33H518.4zM103 178.33H115.4V183.48H103zM121.6 178.33H134V183.48H121.6zM183.6 178.33H189.8V183.48H183.6zM276.6 178.33H289V183.48H276.6zM344.8 178.33H357.2V183.48H344.8zM369.6 178.33H375.8V183.48H369.6zM394.4 178.33H400.6V183.48H394.4zM431.6 178.33H444V183.48H431.6zM450.2 178.33H462.6V183.48H450.2zM493.6 178.33H499.8V183.48H493.6zM121.6 183.48H127.8V188.62H121.6zM146.4 183.48H158.8V188.62H146.4zM270.4 183.48H276.6V188.62H270.4zM289 183.48H295.2V188.62H289zM301.4 183.48H313.8V188.62H301.4zM406.8 183.48H413V188.62H406.8zM419.2 183.48H431.6V188.62H419.2zM444 183.48H450.2V188.62H444zM493.6 183.48H512.2V188.62H493.6zM518.4 183.48H524V188.62H518.4zM90.6 188.62H96.8V193.77H90.6zM115.4 188.62H134V193.77H115.4zM140.2 188.62H146.4V193.77H140.2zM152.6 188.62H165V193.77H152.6zM171.2 188.62H183.6V193.77H171.2zM220.8 188.62H233.2V193.77H220.8zM295.2 188.62H301.4V193.77H295.2zM406.8 188.62H413V193.77H406.8zM462.6 188.62H481.2V193.77H462.6zM487.4 188.62H499.8V193.77H487.4zM518.4 188.62H524V193.77H518.4zM109.2 193.77H115.4V198.92H109.2zM121.6 193.77H134V198.92H121.6zM146.4 193.77H158.8V198.92H146.4zM177.4 193.77H183.6V198.92H177.4zM214.6 193.77H220.8V198.92H214.6zM344.8 193.77H351V198.92H344.8zM369.6 193.77H375.8V198.92H369.6zM413 193.77H419.2V198.92H413zM462.6 193.77H475V198.92H462.6zM487.4 193.77H493.6V198.92H487.4zM499.8 193.77H506V198.92H499.8zM512.2 193.77H518.4V198.92H512.2zM109.2 198.92H115.4V204.07H109.2zM158.8 198.92H165V204.07H158.8zM183.6 198.92H189.8V204.07H183.6zM239.4 198.92H245.6V204.07H239.4zM351 198.92H357.2V204.07H351zM388.2 198.92H394.4V204.07H388.2zM406.8 198.92H413V204.07H406.8zM468.8 198.92H475V204.07H468.8zM493.6 198.92H499.8V204.07H493.6zM208.4 204.07H214.6V209.22H208.4zM220.8 204.07H227V209.22H220.8zM394.4 204.07H400.6V209.22H394.4zM456.4 204.07H462.6V209.22H456.4zM475 204.07H481.2V209.22H475zM512.2 204.07H518.4V209.22H512.2zM220.8 209.22H227V214.37H220.8zM388.2 209.22H394.4V214.37H388.2zM475 209.22H487.4V214.37H475zM506 209.22H512.2V214.37H506zM189.8 214.37H196V219.52H189.8zM282.8 214.37H289V219.52H282.8zM301.4 214.37H307.6V219.52H301.4zM177.4 219.52H189.8V224.67H177.4zM276.6 219.52H282.8V224.67H276.6zM301.4 219.52H307.6V224.67H301.4zM357.2 219.52H363.4V224.67H357.2zM406.8 219.52H413V224.67H406.8zM437.8 219.52H444V224.67H437.8zM171.2 224.67H183.6V229.82H171.2zM313.8 224.67H320V229.82H313.8zM363.4 224.67H369.6V229.82H363.4zM475 224.67H481.2V229.82H475zM499.8 224.67H518.4V229.82H499.8zM177.4 229.82H183.6V234.97H177.4zM245.6 229.82H251.8V234.97H245.6zM289 229.82H295.2V234.97H289zM437.8 229.82H450.2V234.97H437.8zM462.6 229.82H468.8V234.97H462.6zM506 229.82H512.2V234.97H506zM78.2 234.97H84.4V240.12H78.2zM177.4 234.97H183.6V240.12H177.4zM437.8 234.97H444V240.12H437.8zM518.4 234.97H524V240.12H518.4zM84.4 240.12H96.8V245.26H84.4zM183.6 240.12H189.8V245.26H183.6zM239.4 240.12H251.8V245.26H239.4zM282.8 240.12H295.2V245.26H282.8zM468.8 240.12H475V245.26H468.8zM493.6 240.12H506V245.26H493.6zM518.4 240.12H524V245.26H518.4zM75 245.26H78.2V250.41H75zM90.6 245.26H96.8V250.41H90.6zM171.2 245.26H183.6V250.41H171.2zM400.6 245.26H406.8V250.41H400.6zM462.6 245.26H468.8V250.41H462.6zM506 245.26H524V250.41H506zM90.6 250.41H96.8V255.56H90.6zM171.2 250.41H183.6V255.56H171.2zM245.6 250.41H251.8V255.56H245.6zM264.2 250.41H270.4V255.56H264.2zM295.2 250.41H307.6V255.56H295.2zM406.8 250.41H425.4V255.56H406.8zM475 250.41H481.2V255.56H475zM487.4 250.41H493.6V255.56H487.4zM506 250.41H512.2V255.56H506zM90.6 255.56H103V260.71H90.6zM171.2 255.56H177.4V260.71H171.2zM196 255.56H202.2V260.71H196zM245.6 255.56H251.8V260.71H245.6zM264.2 255.56H270.4V260.71H264.2zM282.8 255.56H289V260.71H282.8zM301.4 255.56H307.6V260.71H301.4zM363.4 255.56H375.8V260.71H363.4zM437.8 255.56H450.2V260.71H437.8zM456.4 255.56H462.6V260.71H456.4zM475 255.56H481.2V260.71H475zM96.8 260.71H103V265.86H96.8zM140.2 260.71H152.6V265.86H140.2zM165 260.71H171.2V265.86H165zM245.6 260.71H251.8V265.86H245.6zM264.2 260.71H270.4V265.86H264.2zM276.6 260.71H289V265.86H276.6zM344.8 260.71H351V265.86H344.8zM363.4 260.71H375.8V265.86H363.4zM382 260.71H388.2V265.86H382zM394.4 260.71H400.6V265.86H394.4zM406.8 260.71H425.4V265.86H406.8zM444 260.71H450.2V265.86H444zM481.2 260.71H499.8V265.86H481.2zM506 260.71H512.2V265.86H506zM518.4 260.71H524V265.86H518.4zM196 265.86H202.2V271.01H196zM251.8 265.86H258V271.01H251.8zM276.6 265.86H289V271.01H276.6zM326.2 265.86H338.6V271.01H326.2zM351 265.86H357.2V271.01H351zM369.6 265.86H375.8V271.01H369.6zM388.2 265.86H406.8V271.01H388.2zM413 265.86H419.2V271.01H413zM444 265.86H450.2V271.01H444zM456.4 265.86H462.6V271.01H456.4zM493.6 265.86H506V271.01H493.6zM512.2 265.86H518.4V271.01H512.2zM109.2 271.01H121.6V276.16H109.2zM196 271.01H202.2V276.16H196zM258 271.01H276.6V276.16H258zM295.2 271.01H301.4V276.16H295.2zM307.6 271.01H313.8V276.16H307.6zM326.2 271.01H332.4V276.16H326.2zM357.2 271.01H363.4V276.16H357.2zM369.6 271.01H388.2V276.16H369.6zM413 271.01H419.2V276.16H413zM425.4 271.01H437.8V276.16H425.4zM444 271.01H462.6V276.16H444zM468.8 271.01H475V276.16H468.8zM487.4 271.01H493.6V276.16H487.4zM506 271.01H524V276.16H506zM301.4 276.16H307.6V281.31H301.4zM320 276.16H326.2V281.31H320zM332.4 276.16H338.6V281.31H332.4zM369.6 276.16H375.8V281.31H369.6zM456.4 276.16H462.6V281.31H456.4zM512.2 276.16H518.4V281.31H512.2zM196 281.31H202.2V286.46H196zM351 281.31H369.6V286.46H351zM413 281.31H431.6V286.46H413zM518.4 281.31H524V286.46H518.4zM103 286.46H109.2V291.61H103zM202.2 286.46H208.4V291.61H202.2zM214.6 286.46H220.8V291.61H214.6zM233.2 286.46H239.4V291.61H233.2zM307.6 286.46H313.8V291.61H307.6zM425.4 286.46H437.8V291.61H425.4zM487.4 286.46H493.6V291.61H487.4zM233.2 291.61H239.4V296.75H233.2zM307.6 291.61H326.2V296.75H307.6zM338.6 291.61H351V296.75H338.6zM431.6 291.61H437.8V296.75H431.6zM468.8 291.61H475V296.75H468.8zM344.8 296.75H357.2V301.9H344.8zM431.6 296.75H437.8V301.9H431.6zM444 296.75H450.2V301.9H444zM462.6 296.75H468.8V301.9H462.6zM475 296.75H481.2V301.9H475zM152.6 301.9H171.2V307.05H152.6zM233.2 301.9H239.4V307.05H233.2zM338.6 301.9H344.8V307.05H338.6zM351 301.9H363.4V307.05H351zM462.6 301.9H475V307.05H462.6zM171.2 307.05H177.4V312.2H171.2zM313.8 307.05H320V312.2H313.8zM332.4 307.05H338.6V312.2H332.4zM344.8 307.05H357.2V312.2H344.8zM437.8 307.05H444V312.2H437.8zM456.4 307.05H481.2V312.2H456.4zM320 312.2H326.2V317.35H320zM338.6 312.2H351V317.35H338.6zM450.2 312.2H462.6V317.35H450.2zM512.2 327.65H518.4V332.8H512.2zM506 332.8H512.2V337.95H506zM196 337.95H202.2V343.09H196zM400.6 337.95H406.8V343.09H400.6zM413 337.95H431.6V343.09H413zM183.6 343.09H189.8V348.24H183.6zM202.2 343.09H208.4V348.24H202.2zM406.8 343.09H413V348.24H406.8zM202.2 348.24H208.4V353.39H202.2zM177.4 353.39H189.8V358.54H177.4zM121.6 363.69H127.8V368.84H121.6zM134 363.69H140.2V368.84H134zM382 363.69H388.2V368.84H382zM394.4 363.69H413V368.84H394.4zM183.6 368.84H189.8V373.99H183.6zM382 368.84H388.2V373.99H382zM394.4 368.84H400.6V373.99H394.4zM121.6 373.99H127.8V379.14H121.6zM152.6 373.99H165V379.14H152.6zM189.8 373.99H202.2V379.14H189.8zM245.6 373.99H251.8V379.14H245.6zM388.2 373.99H394.4V379.14H388.2zM406.8 373.99H419.2V379.14H406.8zM75 379.14H78.2V384.29H75zM90.6 379.14H96.8V384.29H90.6zM103 379.14H115.4V384.29H103zM127.8 379.14H134V384.29H127.8zM146.4 379.14H177.4V384.29H146.4zM189.8 379.14H202.2V384.29H189.8zM208.4 379.14H214.6V384.29H208.4zM239.4 379.14H245.6V384.29H239.4zM351 379.14H357.2V384.29H351zM382 379.14H388.2V384.29H382zM400.6 379.14H406.8V384.29H400.6zM475 379.14H481.2V384.29H475zM499.8 379.14H506V384.29H499.8zM512.2 379.14H518.4V384.29H512.2zM90.6 384.29H96.8V389.44H90.6zM103 384.29H109.2V389.44H103zM134 384.29H140.2V389.44H134zM177.4 384.29H189.8V389.44H177.4zM196 384.29H202.2V389.44H196zM208.4 384.29H214.6V389.44H208.4zM351 384.29H363.4V389.44H351zM419.2 384.29H425.4V389.44H419.2zM431.6 384.29H437.8V389.44H431.6zM450.2 384.29H456.4V389.44H450.2zM499.8 384.29H518.4V389.44H499.8zM75 389.44H78.2V394.58H75zM84.4 389.44H90.6V394.58H84.4zM177.4 389.44H183.6V394.58H177.4zM214.6 389.44H220.8V394.58H214.6zM276.6 389.44H282.8V394.58H276.6zM332.4 389.44H344.8V394.58H332.4zM419.2 389.44H425.4V394.58H419.2zM437.8 389.44H456.4V394.58H437.8zM78.2 394.58H90.6V399.73H78.2zM103 394.58H109.2V399.73H103zM127.8 394.58H140.2V399.73H127.8zM177.4 394.58H183.6V399.73H177.4zM220.8 394.58H227V399.73H220.8zM282.8 394.58H289V399.73H282.8zM326.2 394.58H344.8V399.73H326.2zM363.4 394.58H394.4V399.73H363.4zM425.4 394.58H437.8V399.73H425.4zM456.4 394.58H462.6V399.73H456.4zM468.8 394.58H481.2V399.73H468.8zM493.6 394.58H499.8V399.73H493.6zM518.4 394.58H524V399.73H518.4zM75 399.73H90.6V404.88H75zM115.4 399.73H121.6V404.88H115.4zM127.8 399.73H134V404.88H127.8zM196 399.73H202.2V404.88H196zM276.6 399.73H289V404.88H276.6zM301.4 399.73H307.6V404.88H301.4zM332.4 399.73H338.6V404.88H332.4zM431.6 399.73H437.8V404.88H431.6zM450.2 399.73H456.4V404.88H450.2zM462.6 399.73H468.8V404.88H462.6zM75 404.88H78.2V410.03H75zM115.4 404.88H127.8V410.03H115.4zM146.4 404.88H152.6V410.03H146.4zM183.6 404.88H189.8V410.03H183.6zM245.6 404.88H251.8V410.03H245.6zM258 404.88H270.4V410.03H258zM295.2 404.88H307.6V410.03H295.2zM351 404.88H357.2V410.03H351zM431.6 404.88H450.2V410.03H431.6zM487.4 404.88H493.6V410.03H487.4zM518.4 404.88H524V410.03H518.4zM75 410.03H78.2V415.18H75zM84.4 410.03H90.6V415.18H84.4zM115.4 410.03H140.2V415.18H115.4zM183.6 410.03H189.8V415.18H183.6zM196 410.03H202.2V415.18H196zM239.4 410.03H251.8V415.18H239.4zM258 410.03H264.2V415.18H258zM282.8 410.03H295.2V415.18H282.8zM301.4 410.03H307.6V415.18H301.4zM338.6 410.03H351V415.18H338.6zM406.8 410.03H413V415.18H406.8zM468.8 410.03H475V415.18H468.8zM518.4 410.03H524V415.18H518.4zM75 415.18H78.2V419H75zM121.6 415.18H140.2V419H121.6zM146.4 415.18H152.6V419H146.4zM202.2 415.18H208.4V419H202.2zM245.6 415.18H258V419H245.6zM295.2 415.18H301.4V419H295.2zM313.8 415.18H332.4V419H313.8zM338.6 415.18H351V419H338.6zM394.4 415.18H400.6V419H394.4zM406.8 415.18H413V419H406.8zM425.4 415.18H431.6V419H425.4zM444 415.18H450.2V419H444zM475 415.18H487.4V419H475zM506 415.18H512.2V419H506z"/>
<path fill="#5a00b4" d="M78.2 58H84.4V59.9H78.2zM96.8 58H103V59.9H96.8zM84.4 59.9H90.6V65.05H84.4zM189.8 59.9H196V65.05H189.8zM214.6 59.9H220.8V65.05H214.6zM276.6 59.9H282.8V65.05H276.6zM289 59.9H295.2V65.05H289zM369.6 59.9H375.8V65.05H369.6zM444 59.9H450.2V65.05H444zM84.4 65.05H90.6V70.2H84.4zM183.6 65.05H196V70.2H183.6zM227 65.05H233.2V70.2H227zM276.6 65.05H289V70.2H276.6zM444 65.05H450.2V70.2H444zM456.4 65.05H462.6V70.2H456.4zM78.2 70.2H84.4V75.35H78.2zM196 70.2H202.2V75.35H196zM295.2 70.2H301.4V75.35H295.2zM499.8 70.2H506V75.35H499.8zM518.4 70.2H524V75.35H518.4zM78.2 75.35H84.4V80.5H78.2zM152.6 75.35H158.8V80.5H152.6zM295.2 75.35H301.4V80.5H295.2zM357.2 75.35H363.4V80.5H357.2zM375.8 75.35H388.2V80.5H375.8zM475 75.35H481.2V80.5H475zM493.6 75.35H506V80.5H493.6zM75 80.5H78.2V85.64H75zM109.2 80.5H115.4V85.64H109.2zM146.4 80.5H152.6V85.64H146.4zM196 80.5H202.2V85.64H196zM363.4 80.5H369.6V85.64H363.4zM419.2 80.5H431.6V85.64H419.2zM152.6 85.64H158.8V90.79H152.6zM338.6 85.64H344.8V90.79H338.6zM363.4 85.64H382V90.79H363.4zM456.4 85.64H462.6V90.79H456.4zM487.4 85.64H493.6V90.79H487.4zM152.6 90.79H158.8V95.94H152.6zM183.6 90.79H189.8V95.94H183.6zM301.4 90.79H307.6V95.94H301.4zM313.8 90.79H320V95.94H313.8zM357.2 90.79H363.4V95.94H357.2zM375.8 90.79H388.2V95.94H375.8zM425.4 90.79H431.6V95.94H425.4zM456.4 90.79H468.8V95.94H456.4zM487.4 90.79H493.6V95.94H487.4zM499.8 90.79H512.2V95.94H499.8zM109.2 95.94H115.4V101.09H109.2zM134 95.94H140.2V101.09H134zM431.6 95.94H437.8V101.09H431.6zM456.4 95.94H462.6V101.09H456.4zM493.6 95.94H506V101.09H493.6zM103 101.09H109.2V106.24H103zM388.2 101.09H394.4V106.24H388.2zM444 101.09H468.8V106.24H444zM493.6 101.09H499.8V106.24H493.6zM518.4 101.09H524V106.24H518.4zM115.4 106.24H121.6V111.39H115.4zM127.8 106.24H134V111.39H127.8zM233.2 106.24H239.4V111.39H233.2zM375.8 106.24H382V111.39H375.8zM444 106.24H450.2V111.39H444zM456.4 106.24H462.6V111.39H456.4zM475 106.24H481.2V111.39H475zM233.2 111.39H245.6V116.54H233.2zM456.4 111.39H462.6V116.54H456.4zM468.8 111.39H475V116.54H468.8zM233.2 116.54H239.4V121.69H233.2zM369.6 116.54H375.8V121.69H369.6zM419.2 116.54H425.4V121.69H419.2zM431.6 116.54H437.8V121.69H431.6zM456.4 116.54H462.6V121.69H456.4zM468.8 116.54H475V121.69H468.8zM481.2 116.54H487.4V121.69H481.2zM499.8 116.54H506V121.69H499.8zM512.2 116.54H518.4V121.69H512.2zM258 121.69H264.2V126.84H258zM375.8 121.69H382V126.84H375.8zM394.4 121.69H400.6V126.84H394.4zM437.8 121.69H444V126.84H437.8zM450.2 121.69H462.6V126.84H450.2zM227 126.84H233.2V131.99H227zM251.8 126.84H264.2V131.99H251.8zM375.8 126.84H382V131.99H375.8zM425.4 126.84H431.6V131.99H425.4zM462.6 126.84H468.8V131.99H462.6zM109.2 131.99H115.4V137.13H109.2zM394.4 131.99H406.8V137.13H394.4zM456.4 131.99H468.8V137.13H456.4zM239.4 137.13H245.6V142.28H239.4zM400.6 137.13H406.8V142.28H400.6zM450.2 137.13H456.4V142.28H450.2zM468.8 137.13H475V142.28H468.8zM78.2 142.28H90.6V147.43H78.2zM233.2 142.28H239.4V147.43H233.2zM394.4 142.28H400.6V147.43H394.4zM456.4 142.28H487.4V147.43H456.4zM512.2 142.28H518.4V147.43H512.2zM233.2 147.43H245.6V152.58H233.2zM258 147.43H264.2V152.58H258zM382 147.43H388.2V152.58H382zM400.6 147.43H406.8V152.58H400.6zM437.8 147.43H444V152.58H437.8zM487.4 147.43H493.6V152.58H487.4zM75 152.58H78.2V157.73H75zM388.2 152.58H394.4V157.73H388.2zM437.8 152.58H444V157.73H437.8zM90.6 157.73H96.8V162.88H90.6zM134 157.73H140.2V162.88H134zM239.4 157.73H251.8V162.88H239.4zM363.4 157.73H369.6V162.88H363.4zM394.4 157.73H400.6V162.88H394.4zM518.4 157.73H524V162.88H518.4zM233.2 162.88H251.8V168.03H233.2zM375.8 162.88H394.4V168.03H375.8zM487.4 162.88H493.6V168.03H487.4zM103 168.03H109.2V173.18H103zM134 168.03H146.4V173.18H134zM326.2 168.03H332.4V173.18H326.2zM481.2 168.03H493.6V173.18H481.2zM518.4 168.03H524V173.18H518.4zM75 173.18H84.4V178.33H75zM96.8 173.18H103V178.33H96.8zM121.6 173.18H127.8V178.33H121.6zM134 173.18H140.2V178.33H134zM258 173.18H264.2V178.33H258zM326.2 173.18H332.4V178.33H326.2zM375.8 173.18H382V178.33H375.8zM444 173.18H450.2V178.33H444zM481.2 173.18H487.4V178.33H481.2zM493.6 173.18H499.8V178.33H493.6zM78.2 178.33H84.4V183.48H78.2zM90.6 178.33H96.8V183.48H90.6zM134 178.33H140.2V183.48H134zM264.2 178.33H270.4V183.48H264.2zM320 178.33H326.2V183.48H320zM338.6 178.33H344.8V183.48H338.6zM388.2 178.33H394.4V183.48H388.2zM400.6 178.33H413V183.48H400.6zM425.4 178.33H431.6V183.48H425.4zM444 178.33H450.2V183.48H444zM84.4 183.48H90.6V188.62H84.4zM115.4 183.48H121.6V188.62H115.4zM127.8 183.48H146.4V188.62H127.8zM158.8 183.48H165V188.62H158.8zM171.2 183.48H177.4V188.62H171.2zM338.6 183.48H351V188.62H338.6zM394.4 183.48H400.6V188.62H394.4zM413 183.48H419.2V188.62H413zM437.8 183.48H444V188.62H437.8zM481.2 183.48H487.4V188.62H481.2zM512.2 183.48H518.4V188.62H512.2zM134 188.62H140.2V193.77H134zM146.4 188.62H152.6V193.77H146.4zM189.8 188.62H202.2V193.77H189.8zM239.4 188.62H245.6V193.77H239.4zM301.4 188.62H307.6V193.77H301.4zM344.8 188.62H351V193.77H344.8zM394.4 188.62H400.6V193.77H394.4zM481.2 188.62H487.4V193.77H481.2zM512.2 188.62H518.4V193.77H512.2zM90.6 193.77H96.8V198.92H90.6zM115.4 193.77H121.6V198.92H115.4zM134 193.77H140.2V198.92H134zM208.4 193.77H214.6V198.92H208.4zM338.6 193.77H344.8V198.92H338.6zM406.8 193.77H413V198.92H406.8zM481.2 193.77H487.4V198.92H481.2zM506 193.77H512.2V198.92H506zM90.6 198.92H96.8V204.07H90.6zM103 198.92H109.2V204.07H103zM140.2 198.92H146.4V204.07H140.2zM214.6 198.92H227V204.07H214.6zM344.8 198.92H351V204.07H344.8zM400.6 198.92H406.8V204.07H400.6zM450.2 198.92H456.4V204.07H450.2zM481.2 198.92H487.4V204.07H481.2zM90.6 204.07H96.8V209.22H90.6zM214.6 204.07H220.8V209.22H214.6zM351 204.07H357.2V209.22H351zM400.6 204.07H406.8V209.22H400.6zM165 209.22H171.2V214.37H165zM295.2 209.22H307.6V214.37H295.2zM394.4 209.22H400.6V214.37H394.4zM406.8 209.22H413V214.37H406.8zM512.2 209.22H518.4V214.37H512.2zM338.6 214.37H351V219.52H338.6zM357.2 214.37H363.4V219.52H357.2zM375.8 214.37H382V219.52H375.8zM506 214.37H512.2V219.52H506zM171.2 219.52H177.4V224.67H171.2zM270.4 219.52H276.6V224.67H270.4zM307.6 219.52H313.8V224.67H307.6zM338.6 219.52H351V224.67H338.6zM400.6 219.52H406.8V224.67H400.6zM506 219.52H512.2V224.67H506zM518.4 219.52H524V224.67H518.4zM245.6 224.67H258V229.82H245.6zM270.4 224.67H289V229.82H270.4zM295.2 224.67H307.6V229.82H295.2zM320 224.67H326.2V229.82H320zM369.6 224.67H382V229.82H369.6zM406.8 224.67H413V229.82H406.8zM518.4 224.67H524V229.82H518.4zM75 229.82H84.4V234.97H75zM171.2 229.82H177.4V234.97H171.2zM251.8 229.82H258V234.97H251.8zM282.8 229.82H289V234.97H282.8zM307.6 229.82H313.8V234.97H307.6zM413 229.82H419.2V234.97H413zM90.6 234.97H96.8V240.12H90.6zM171.2 234.97H177.4V240.12H171.2zM251.8 234.97H258V240.12H251.8zM295.2 234.97H301.4V240.12H295.2zM506 234.97H512.2V240.12H506zM171.2 240.12H183.6V245.26H171.2zM295.2 240.12H301.4V245.26H295.2zM357.2 240.12H369.6V245.26H357.2zM183.6 245.26H189.8V250.41H183.6zM276.6 245.26H289V250.41H276.6zM413 245.26H419.2V250.41H413zM450.2 245.26H456.4V250.41H450.2zM481.2 245.26H493.6V250.41H481.2zM499.8 245.26H506V250.41H499.8zM75 250.41H78.2V255.56H75zM183.6 250.41H189.8V255.56H183.6zM282.8 250.41H289V255.56H282.8zM313.8 250.41H320V255.56H313.8zM363.4 250.41H369.6V255.56H363.4zM450.2 250.41H468.8V255.56H450.2zM481.2 250.41H487.4V255.56H481.2zM499.8 250.41H506V255.56H499.8zM512.2 250.41H518.4V255.56H512.2zM75 255.56H78.2V260.71H75zM165 255.56H171.2V260.71H165zM183.6 255.56H189.8V260.71H183.6zM270.4 255.56H276.6V260.71H270.4zM357.2 255.56H363.4V260.71H357.2zM394.4 255.56H400.6V260.71H394.4zM450.2 255.56H456.4V260.71H450.2zM481.2 255.56H506V260.71H481.2zM512.2 255.56H518.4V260.71H512.2zM78.2 260.71H84.4V265.86H78.2zM127.8 260.71H140.2V265.86H127.8zM171.2 260.71H177.4V265.86H171.2zM270.4 260.71H276.6V265.86H270.4zM332.4 260.71H338.6V265.86H332.4zM357.2 260.71H363.4V265.86H357.2zM450.2 260.71H462.6V265.86H450.2zM468.8 260.71H475V265.86H468.8zM512.2 260.71H518.4V265.86H512.2zM84.4 265.86H90.6V271.01H84.4zM96.8 265.86H103V271.01H96.8zM109.2 265.86H115.4V271.01H109.2zM270.4 265.86H276.6V271.01H270.4zM357.2 265.86H369.6V271.01H357.2zM375.8 265.86H388.2V271.01H375.8zM462.6 265.86H475V271.01H462.6zM96.8 271.01H109.2V276.16H96.8zM289 271.01H295.2V276.16H289zM363.4 271.01H369.6V276.16H363.4zM394.4 271.01H400.6V276.16H394.4zM462.6 271.01H468.8V276.16H462.6zM493.6 271.01H506V276.16H493.6zM103 276.16H109.2V281.31H103zM251.8 276.16H276.6V281.31H251.8zM307.6 276.16H313.8V281.31H307.6zM326.2 276.16H332.4V281.31H326.2zM351 276.16H369.6V281.31H351zM462.6 276.16H468.8V281.31H462.6zM487.4 276.16H493.6V281.31H487.4zM499.8 276.16H512.2V281.31H499.8zM103 281.31H115.4V286.46H103zM189.8 281.31H196V286.46H189.8zM301.4 281.31H320V286.46H301.4zM344.8 281.31H351V286.46H344.8zM369.6 281.31H375.8V286.46H369.6zM512.2 281.31H518.4V286.46H512.2zM227 286.46H233.2V291.61H227zM239.4 286.46H245.6V291.61H239.4zM313.8 286.46H320V291.61H313.8zM351 286.46H357.2V291.61H351zM96.8 291.61H103V296.75H96.8zM115.4 291.61H121.6V296.75H115.4zM196 291.61H220.8V296.75H196zM227 291.61H233.2V296.75H227zM202.2 296.75H220.8V301.9H202.2zM227 296.75H233.2V301.9H227zM307.6 296.75H313.8V301.9H307.6zM357.2 296.75H363.4V301.9H357.2zM468.8 296.75H475V301.9H468.8zM214.6 301.9H220.8V307.05H214.6zM307.6 301.9H313.8V307.05H307.6zM344.8 301.9H351V307.05H344.8zM475 301.9H481.2V307.05H475zM146.4 307.05H158.8V312.2H146.4zM165 307.05H171.2V312.2H165zM202.2 307.05H208.4V312.2H202.2zM214.6 307.05H220.8V312.2H214.6zM227 307.05H233.2V312.2H227zM239.4 307.05H251.8V312.2H239.4zM338.6 307.05H344.8V312.2H338.6zM233.2 312.2H239.4V317.35H233.2zM351 312.2H357.2V317.35H351zM462.6 312.2H468.8V317.35H462.6zM475 312.2H487.4V317.35H475zM208.4 317.35H214.6V322.5H208.4zM499.8 327.65H512.2V332.8H499.8zM493.6 332.8H499.8V337.95H493.6zM189.8 343.09H196V348.24H189.8zM419.2 343.09H425.4V348.24H419.2zM506 343.09H512.2V348.24H506zM177.4 348.24H183.6V353.39H177.4zM369.6 348.24H375.8V353.39H369.6zM177.4 358.54H183.6V363.69H177.4zM239.4 358.54H245.6V363.69H239.4zM369.6 358.54H375.8V363.69H369.6zM388.2 358.54H400.6V363.69H388.2zM127.8 363.69H134V368.84H127.8zM140.2 363.69H146.4V368.84H140.2zM177.4 363.69H183.6V368.84H177.4zM202.2 363.69H208.4V368.84H202.2zM233.2 363.69H239.4V368.84H233.2zM121.6 368.84H127.8V373.99H121.6zM177.4 368.84H183.6V373.99H177.4zM202.2 368.84H208.4V373.99H202.2zM239.4 368.84H245.6V373.99H239.4zM338.6 368.84H357.2V373.99H338.6zM375.8 368.84H382V373.99H375.8zM400.6 368.84H406.8V373.99H400.6zM103 373.99H109.2V379.14H103zM115.4 373.99H121.6V379.14H115.4zM127.8 373.99H140.2V379.14H127.8zM146.4 373.99H152.6V379.14H146.4zM165 373.99H171.2V379.14H165zM177.4 373.99H189.8V379.14H177.4zM214.6 373.99H220.8V379.14H214.6zM351 373.99H357.2V379.14H351zM369.6 373.99H375.8V379.14H369.6zM382 373.99H388.2V379.14H382zM400.6 373.99H406.8V379.14H400.6zM419.2 373.99H425.4V379.14H419.2zM140.2 379.14H146.4V384.29H140.2zM202.2 379.14H208.4V384.29H202.2zM214.6 379.14H220.8V384.29H214.6zM245.6 379.14H251.8V384.29H245.6zM369.6 379.14H375.8V384.29H369.6zM394.4 379.14H400.6V384.29H394.4zM406.8 379.14H413V384.29H406.8zM425.4 379.14H431.6V384.29H425.4zM506 379.14H512.2V384.29H506zM518.4 379.14H524V384.29H518.4zM75 384.29H78.2V389.44H75zM84.4 384.29H90.6V389.44H84.4zM140.2 384.29H152.6V389.44H140.2zM158.8 384.29H165V389.44H158.8zM171.2 384.29H177.4V389.44H171.2zM202.2 384.29H208.4V389.44H202.2zM313.8 384.29H326.2V389.44H313.8zM363.4 384.29H375.8V389.44H363.4zM406.8 384.29H419.2V389.44H406.8zM437.8 384.29H444V389.44H437.8zM468.8 384.29H475V389.44H468.8zM493.6 384.29H499.8V389.44H493.6zM518.4 384.29H524V389.44H518.4zM78.2 389.44H84.4V394.58H78.2zM202.2 389.44H214.6V394.58H202.2zM282.8 389.44H295.2V394.58H282.8zM326.2 389.44H332.4V394.58H326.2zM351 389.44H363.4V394.58H351zM475 389.44H481.2V394.58H475zM493.6 389.44H506V394.58H493.6zM512.2 389.44H518.4V394.58H512.2zM75 394.58H78.2V399.73H75zM90.6 394.58H103V399.73H90.6zM121.6 394.58H127.8V399.73H121.6zM158.8 394.58H165V399.73H158.8zM171.2 394.58H177.4V399.73H171.2zM183.6 394.58H189.8V399.73H183.6zM276.6 394.58H282.8V399.73H276.6zM289 394.58H295.2V399.73H289zM344.8 394.58H351V399.73H344.8zM462.6 394.58H468.8V399.73H462.6zM499.8 394.58H518.4V399.73H499.8zM90.6 399.73H103V404.88H90.6zM109.2 399.73H115.4V404.88H109.2zM121.6 399.73H127.8V404.88H121.6zM165 399.73H171.2V404.88H165zM208.4 399.73H227V404.88H208.4zM270.4 399.73H276.6V404.88H270.4zM307.6 399.73H332.4V404.88H307.6zM338.6 399.73H344.8V404.88H338.6zM357.2 399.73H369.6V404.88H357.2zM375.8 399.73H382V404.88H375.8zM425.4 399.73H431.6V404.88H425.4zM444 399.73H450.2V404.88H444zM456.4 399.73H462.6V404.88H456.4zM468.8 399.73H475V404.88H468.8zM487.4 399.73H499.8V404.88H487.4zM518.4 399.73H524V404.88H518.4zM84.4 404.88H90.6V410.03H84.4zM103 404.88H115.4V410.03H103zM140.2 404.88H146.4V410.03H140.2zM158.8 404.88H165V410.03H158.8zM202.2 404.88H208.4V410.03H202.2zM214.6 404.88H220.8V410.03H214.6zM227 404.88H239.4V410.03H227zM276.6 404.88H295.2V410.03H276.6zM307.6 404.88H313.8V410.03H307.6zM320 404.88H326.2V410.03H320zM332.4 404.88H351V410.03H332.4zM375.8 404.88H382V410.03H375.8zM425.4 404.88H431.6V410.03H425.4zM456.4 404.88H462.6V410.03H456.4zM475 404.88H487.4V410.03H475zM140.2 410.03H146.4V415.18H140.2zM202.2 410.03H214.6V415.18H202.2zM227 410.03H239.4V415.18H227zM264.2 410.03H270.4V415.18H264.2zM276.6 410.03H282.8V415.18H276.6zM313.8 410.03H320V415.18H313.8zM332.4 410.03H338.6V415.18H332.4zM351 410.03H357.2V415.18H351zM394.4 410.03H400.6V415.18H394.4zM419.2 410.03H425.4V415.18H419.2zM450.2 410.03H456.4V415.18H450.2zM462.6 410.03H468.8V415.18H462.6zM481.2 410.03H493.6V415.18H481.2zM78.2 415.18H84.4V419H78.2zM90.6 415.18H96.8V419H90.6zM109.2 415.18H121.6V419H109.2zM152.6 415.18H158.8V419H152.6zM208.4 415.18H227V419H208.4zM264.2 415.18H270.4V419H264.2zM276.6 415.18H282.8V419H276.6zM289 415.18H295.2V419H289zM375.8 415.18H382V419H375.8zM450.2 415.18H462.6V419H450.2zM468.8 415.18H475V419H468.8zM518.4 415.18H524V419H518.4z"/>
<path fill="#5f01c3" d="M183.6 59.9H189.8V65.05H183.6zM196 59.9H202.2V65.05H196zM208.4 59.9H214.6V65.05H208.4zM233.2 59.9H239.4V65.05H233.2zM375.8 59.9H382V65.05H375.8zM462.6 59.9H468.8V65.05H462.6zM78.2 65.05H84.4V70.2H78.2zM196 65.05H202.2V70.2H196zM208.4 65.05H214.6V70.2H208.4zM202.2 70.2H208.4V75.35H202.2zM375.8 70.2H382V75.35H375.8zM475 70.2H487.4V75.35H475zM75 75.35H78.2V80.5H75zM282.8 75.35H295.2V80.5H282.8zM450.2 75.35H456.4V80.5H450.2zM152.6 80.5H158.8V85.64H152.6zM357.2 80.5H363.4V85.64H357.2zM382 80.5H388.2V85.64H382zM413 80.5H419.2V85.64H413zM450.2 80.5H468.8V85.64H450.2zM512.2 80.5H524V85.64H512.2zM146.4 85.64H152.6V90.79H146.4zM382 85.64H400.6V90.79H382zM419.2 85.64H431.6V90.79H419.2zM444 85.64H450.2V90.79H444zM506 85.64H512.2V90.79H506zM518.4 85.64H524V90.79H518.4zM394.4 90.79H400.6V95.94H394.4zM444 90.79H450.2V95.94H444zM382 95.94H400.6V101.09H382zM512.2 95.94H518.4V101.09H512.2zM382 101.09H388.2V106.24H382zM394.4 101.09H400.6V106.24H394.4zM425.4 101.09H431.6V106.24H425.4zM437.8 101.09H444V106.24H437.8zM481.2 101.09H487.4V106.24H481.2zM512.2 101.09H518.4V106.24H512.2zM382 106.24H388.2V111.39H382zM450.2 106.24H456.4V111.39H450.2zM481.2 106.24H487.4V111.39H481.2zM493.6 106.24H499.8V111.39H493.6zM512.2 106.24H518.4V111.39H512.2zM227 111.39H233.2V116.54H227zM375.8 111.39H382V116.54H375.8zM419.2 111.39H425.4V116.54H419.2zM450.2 111.39H456.4V116.54H450.2zM493.6 111.39H499.8V116.54H493.6zM375.8 116.54H388.2V121.69H375.8zM394.4 116.54H400.6V121.69H394.4zM450.2 116.54H456.4V121.69H450.2zM462.6 116.54H468.8V121.69H462.6zM475 116.54H481.2V121.69H475zM227 121.69H233.2V126.84H227zM431.6 121.69H437.8V126.84H431.6zM475 121.69H493.6V126.84H475zM518.4 121.69H524V126.84H518.4zM109.2 126.84H115.4V131.99H109.2zM233.2 126.84H239.4V131.99H233.2zM437.8 126.84H444V131.99H437.8zM450.2 126.84H462.6V131.99H450.2zM468.8 126.84H475V131.99H468.8zM487.4 126.84H493.6V131.99H487.4zM518.4 126.84H524V131.99H518.4zM233.2 131.99H239.4V137.13H233.2zM251.8 131.99H258V137.13H251.8zM375.8 131.99H382V137.13H375.8zM425.4 131.99H431.6V137.13H425.4zM450.2 131.99H456.4V137.13H450.2zM233.2 137.13H239.4V142.28H233.2zM245.6 137.13H251.8V142.28H245.6zM375.8 137.13H382V142.28H375.8zM388.2 137.13H394.4V142.28H388.2zM406.8 137.13H413V142.28H406.8zM506 137.13H512.2V142.28H506zM518.4 137.13H524V142.28H518.4zM109.2 142.28H121.6V147.43H109.2zM245.6 142.28H251.8V147.43H245.6zM406.8 142.28H413V147.43H406.8zM437.8 142.28H444V147.43H437.8zM487.4 142.28H493.6V147.43H487.4zM506 142.28H512.2V147.43H506zM518.4 142.28H524V147.43H518.4zM75 147.43H78.2V152.58H75zM115.4 147.43H121.6V152.58H115.4zM375.8 147.43H382V152.58H375.8zM388.2 147.43H394.4V152.58H388.2zM475 147.43H481.2V152.58H475zM506 147.43H518.4V152.58H506zM78.2 152.58H84.4V157.73H78.2zM239.4 152.58H251.8V157.73H239.4zM382 152.58H388.2V157.73H382zM444 152.58H450.2V157.73H444zM468.8 152.58H475V157.73H468.8zM487.4 152.58H493.6V157.73H487.4zM96.8 157.73H103V162.88H96.8zM127.8 157.73H134V162.88H127.8zM289 157.73H295.2V162.88H289zM400.6 157.73H406.8V162.88H400.6zM475 157.73H493.6V162.88H475zM499.8 157.73H512.2V162.88H499.8zM109.2 162.88H121.6V168.03H109.2zM134 162.88H140.2V168.03H134zM394.4 162.88H406.8V168.03H394.4zM475 162.88H481.2V168.03H475zM512.2 162.88H518.4V168.03H512.2zM96.8 168.03H103V173.18H96.8zM115.4 168.03H121.6V173.18H115.4zM233.2 168.03H239.4V173.18H233.2zM276.6 168.03H282.8V173.18H276.6zM375.8 168.03H382V173.18H375.8zM437.8 168.03H444V173.18H437.8zM450.2 168.03H456.4V173.18H450.2zM468.8 168.03H475V173.18H468.8zM493.6 168.03H512.2V173.18H493.6zM109.2 173.18H115.4V178.33H109.2zM127.8 173.18H134V178.33H127.8zM332.4 173.18H338.6V178.33H332.4zM400.6 173.18H406.8V178.33H400.6zM413 173.18H419.2V178.33H413zM425.4 173.18H444V178.33H425.4zM456.4 173.18H475V178.33H456.4zM512.2 173.18H518.4V178.33H512.2zM96.8 178.33H103V183.48H96.8zM313.8 178.33H320V183.48H313.8zM326.2 178.33H332.4V183.48H326.2zM375.8 178.33H382V183.48H375.8zM413 178.33H425.4V183.48H413zM90.6 183.48H96.8V188.62H90.6zM233.2 183.48H239.4V188.62H233.2zM264.2 183.48H270.4V188.62H264.2zM276.6 183.48H289V188.62H276.6zM351 183.48H369.6V188.62H351zM84.4 188.62H90.6V193.77H84.4zM183.6 188.62H189.8V193.77H183.6zM282.8 188.62H295.2V193.77H282.8zM307.6 188.62H313.8V193.77H307.6zM506 188.62H512.2V193.77H506zM183.6 193.77H196V198.92H183.6zM220.8 193.77H227V198.92H220.8zM282.8 193.77H289V198.92H282.8zM301.4 193.77H307.6V198.92H301.4zM332.4 193.77H338.6V198.92H332.4zM351 193.77H357.2V198.92H351zM375.8 193.77H382V198.92H375.8zM84.4 198.92H90.6V204.07H84.4zM127.8 198.92H140.2V204.07H127.8zM146.4 198.92H158.8V204.07H146.4zM208.4 198.92H214.6V204.07H208.4zM282.8 198.92H289V204.07H282.8zM295.2 198.92H301.4V204.07H295.2zM307.6 198.92H313.8V204.07H307.6zM338.6 198.92H344.8V204.07H338.6zM369.6 198.92H382V204.07H369.6zM84.4 204.07H90.6V209.22H84.4zM121.6 204.07H127.8V209.22H121.6zM158.8 204.07H165V209.22H158.8zM295.2 204.07H301.4V209.22H295.2zM344.8 204.07H351V209.22H344.8zM382 204.07H388.2V209.22H382zM115.4 209.22H121.6V214.37H115.4zM289 209.22H295.2V214.37H289zM307.6 209.22H313.8V214.37H307.6zM332.4 209.22H363.4V214.37H332.4zM375.8 209.22H388.2V214.37H375.8zM400.6 209.22H406.8V214.37H400.6zM518.4 209.22H524V214.37H518.4zM165 214.37H171.2V219.52H165zM276.6 214.37H282.8V219.52H276.6zM369.6 214.37H375.8V219.52H369.6zM382 214.37H394.4V219.52H382zM400.6 214.37H413V219.52H400.6zM165 219.52H171.2V224.67H165zM245.6 219.52H251.8V224.67H245.6zM264.2 219.52H270.4V224.67H264.2zM351 219.52H357.2V224.67H351zM363.4 219.52H400.6V224.67H363.4zM512.2 219.52H518.4V224.67H512.2zM75 224.67H84.4V229.82H75zM165 224.67H171.2V229.82H165zM289 224.67H295.2V229.82H289zM351 224.67H357.2V229.82H351zM382 224.67H388.2V229.82H382zM394.4 224.67H400.6V229.82H394.4zM165 229.82H171.2V234.97H165zM258 229.82H270.4V234.97H258zM301.4 229.82H307.6V234.97H301.4zM369.6 229.82H382V234.97H369.6zM512.2 229.82H518.4V234.97H512.2zM84.4 234.97H90.6V240.12H84.4zM313.8 234.97H320V240.12H313.8zM351 234.97H357.2V240.12H351zM369.6 234.97H375.8V240.12H369.6zM512.2 234.97H518.4V240.12H512.2zM96.8 240.12H103V245.26H96.8zM115.4 240.12H121.6V245.26H115.4zM251.8 240.12H258V245.26H251.8zM264.2 240.12H270.4V245.26H264.2zM276.6 240.12H282.8V245.26H276.6zM344.8 240.12H357.2V245.26H344.8zM369.6 240.12H375.8V245.26H369.6zM413 240.12H419.2V245.26H413zM456.4 240.12H468.8V245.26H456.4zM96.8 245.26H103V250.41H96.8zM121.6 245.26H127.8V250.41H121.6zM251.8 245.26H258V250.41H251.8zM264.2 245.26H276.6V250.41H264.2zM295.2 245.26H307.6V250.41H295.2zM363.4 245.26H369.6V250.41H363.4zM382 245.26H388.2V250.41H382zM456.4 245.26H462.6V250.41H456.4zM96.8 250.41H115.4V255.56H96.8zM165 250.41H171.2V255.56H165zM270.4 250.41H282.8V255.56H270.4zM307.6 250.41H313.8V255.56H307.6zM369.6 250.41H375.8V255.56H369.6zM382 250.41H388.2V255.56H382zM493.6 250.41H499.8V255.56H493.6zM518.4 250.41H524V255.56H518.4zM103 255.56H109.2V260.71H103zM177.4 255.56H183.6V260.71H177.4zM189.8 255.56H196V260.71H189.8zM276.6 255.56H282.8V260.71H276.6zM313.8 255.56H326.2V260.71H313.8zM382 255.56H388.2V260.71H382zM518.4 255.56H524V260.71H518.4zM75 260.71H78.2V265.86H75zM103 260.71H109.2V265.86H103zM152.6 260.71H158.8V265.86H152.6zM177.4 260.71H183.6V265.86H177.4zM189.8 260.71H196V265.86H189.8zM258 260.71H264.2V265.86H258zM313.8 260.71H326.2V265.86H313.8zM351 260.71H357.2V265.86H351zM90.6 265.86H96.8V271.01H90.6zM103 265.86H109.2V271.01H103zM171.2 265.86H183.6V271.01H171.2zM189.8 265.86H196V271.01H189.8zM258 265.86H270.4V271.01H258zM320 265.86H326.2V271.01H320zM406.8 265.86H413V271.01H406.8zM450.2 265.86H456.4V271.01H450.2zM90.6 271.01H96.8V276.16H90.6zM189.8 271.01H196V276.16H189.8zM282.8 271.01H289V276.16H282.8zM313.8 271.01H326.2V276.16H313.8zM400.6 271.01H406.8V276.16H400.6zM109.2 276.16H115.4V281.31H109.2zM189.8 276.16H196V281.31H189.8zM276.6 276.16H282.8V281.31H276.6zM289 276.16H295.2V281.31H289zM313.8 276.16H320V281.31H313.8zM388.2 276.16H406.8V281.31H388.2zM493.6 276.16H499.8V281.31H493.6zM96.8 281.31H103V286.46H96.8zM251.8 281.31H258V286.46H251.8zM320 281.31H326.2V286.46H320zM338.6 281.31H344.8V286.46H338.6zM375.8 281.31H382V286.46H375.8zM487.4 281.31H493.6V286.46H487.4zM499.8 281.31H506V286.46H499.8zM96.8 286.46H103V291.61H96.8zM189.8 286.46H202.2V291.61H189.8zM245.6 286.46H251.8V291.61H245.6zM320 286.46H351V291.61H320zM419.2 286.46H425.4V291.61H419.2zM103 291.61H109.2V296.75H103zM121.6 291.61H127.8V296.75H121.6zM171.2 291.61H177.4V296.75H171.2zM183.6 291.61H189.8V296.75H183.6zM220.8 291.61H227V296.75H220.8zM239.4 291.61H245.6V296.75H239.4zM351 291.61H357.2V296.75H351zM369.6 291.61H375.8V296.75H369.6zM487.4 291.61H493.6V296.75H487.4zM499.8 291.61H506V296.75H499.8zM115.4 296.75H121.6V301.9H115.4zM158.8 296.75H165V301.9H158.8zM220.8 296.75H227V301.9H220.8zM425.4 296.75H431.6V301.9H425.4zM146.4 301.9H152.6V307.05H146.4zM220.8 301.9H227V307.05H220.8zM431.6 301.9H437.8V307.05H431.6zM487.4 301.9H499.8V307.05H487.4zM158.8 307.05H165V312.2H158.8zM307.6 307.05H313.8V312.2H307.6zM481.2 307.05H487.4V312.2H481.2zM493.6 307.05H499.8V312.2H493.6zM189.8 312.2H196V317.35H189.8zM202.2 312.2H208.4V317.35H202.2zM313.8 312.2H320V317.35H313.8zM444 312.2H450.2V317.35H444zM468.8 312.2H475V317.35H468.8zM202.2 317.35H208.4V322.5H202.2zM233.2 317.35H239.4V322.5H233.2zM344.8 317.35H351V322.5H344.8zM450.2 317.35H456.4V322.5H450.2zM245.6 327.65H251.8V332.8H245.6zM487.4 327.65H493.6V332.8H487.4zM481.2 332.8H487.4V337.95H481.2zM499.8 332.8H506V337.95H499.8zM177.4 337.95H183.6V343.09H177.4zM189.8 337.95H196V343.09H189.8zM202.2 337.95H208.4V343.09H202.2zM239.4 337.95H251.8V343.09H239.4zM431.6 337.95H437.8V343.09H431.6zM499.8 337.95H512.2V343.09H499.8zM177.4 343.09H183.6V348.24H177.4zM413 343.09H419.2V348.24H413zM425.4 343.09H431.6V348.24H425.4zM375.8 348.24H382V353.39H375.8zM208.4 353.39H214.6V358.54H208.4zM363.4 353.39H369.6V358.54H363.4zM375.8 353.39H388.2V358.54H375.8zM245.6 358.54H251.8V363.69H245.6zM344.8 358.54H351V363.69H344.8zM375.8 358.54H388.2V363.69H375.8zM400.6 358.54H406.8V363.69H400.6zM413 358.54H419.2V363.69H413zM146.4 363.69H152.6V368.84H146.4zM158.8 363.69H171.2V368.84H158.8zM344.8 363.69H357.2V368.84H344.8zM134 368.84H140.2V373.99H134zM152.6 368.84H165V373.99H152.6zM189.8 368.84H196V373.99H189.8zM251.8 368.84H258V373.99H251.8zM406.8 368.84H425.4V373.99H406.8zM431.6 368.84H437.8V373.99H431.6zM75 373.99H84.4V379.14H75zM96.8 373.99H103V379.14H96.8zM109.2 373.99H115.4V379.14H109.2zM202.2 373.99H208.4V379.14H202.2zM239.4 373.99H245.6V379.14H239.4zM338.6 373.99H351V379.14H338.6zM357.2 373.99H369.6V379.14H357.2zM375.8 373.99H382V379.14H375.8zM499.8 373.99H506V379.14H499.8zM518.4 373.99H524V379.14H518.4zM84.4 379.14H90.6V384.29H84.4zM220.8 379.14H227V384.29H220.8zM233.2 379.14H239.4V384.29H233.2zM251.8 379.14H258V384.29H251.8zM344.8 379.14H351V384.29H344.8zM431.6 379.14H437.8V384.29H431.6zM456.4 379.14H462.6V384.29H456.4zM468.8 379.14H475V384.29H468.8zM78.2 384.29H84.4V389.44H78.2zM152.6 384.29H158.8V389.44H152.6zM165 384.29H171.2V389.44H165zM245.6 384.29H264.2V389.44H245.6zM344.8 384.29H351V389.44H344.8zM444 384.29H450.2V389.44H444zM456.4 384.29H462.6V389.44H456.4zM475 384.29H481.2V389.44H475zM140.2 389.44H146.4V394.58H140.2zM165 389.44H177.4V394.58H165zM220.8 389.44H227V394.58H220.8zM239.4 389.44H251.8V394.58H239.4zM270.4 389.44H276.6V394.58H270.4zM344.8 389.44H351V394.58H344.8zM363.4 389.44H375.8V394.58H363.4zM413 389.44H419.2V394.58H413zM456.4 389.44H475V394.58H456.4zM481.2 389.44H487.4V394.58H481.2zM518.4 389.44H524V394.58H518.4zM140.2 394.58H146.4V399.73H140.2zM227 394.58H233.2V399.73H227zM264.2 394.58H270.4V399.73H264.2zM301.4 394.58H326.2V399.73H301.4zM351 394.58H363.4V399.73H351zM394.4 394.58H400.6V399.73H394.4zM481.2 394.58H493.6V399.73H481.2zM140.2 399.73H146.4V404.88H140.2zM152.6 399.73H165V404.88H152.6zM171.2 399.73H183.6V404.88H171.2zM245.6 399.73H264.2V404.88H245.6zM289 399.73H301.4V404.88H289zM344.8 399.73H357.2V404.88H344.8zM369.6 399.73H375.8V404.88H369.6zM382 399.73H400.6V404.88H382zM419.2 399.73H425.4V404.88H419.2zM475 399.73H487.4V404.88H475zM506 399.73H518.4V404.88H506zM152.6 404.88H158.8V410.03H152.6zM208.4 404.88H214.6V410.03H208.4zM220.8 404.88H227V410.03H220.8zM239.4 404.88H245.6V410.03H239.4zM270.4 404.88H276.6V410.03H270.4zM326.2 404.88H332.4V410.03H326.2zM369.6 404.88H375.8V410.03H369.6zM394.4 404.88H406.8V410.03H394.4zM450.2 404.88H456.4V410.03H450.2zM462.6 404.88H468.8V410.03H462.6zM493.6 404.88H499.8V410.03H493.6zM506 404.88H512.2V410.03H506zM90.6 410.03H96.8V415.18H90.6zM109.2 410.03H115.4V415.18H109.2zM146.4 410.03H152.6V415.18H146.4zM220.8 410.03H227V415.18H220.8zM270.4 410.03H276.6V415.18H270.4zM320 410.03H332.4V415.18H320zM375.8 410.03H382V415.18H375.8zM425.4 410.03H437.8V415.18H425.4zM444 410.03H450.2V415.18H444zM456.4 410.03H462.6V415.18H456.4zM499.8 410.03H506V415.18H499.8zM96.8 415.18H109.2V419H96.8zM158.8 415.18H165V419H158.8zM196 415.18H202.2V419H196zM227 415.18H233.2V419H227zM239.4 415.18H245.6V419H239.4zM270.4 415.18H276.6V419H270.4zM282.8 415.18H289V419H282.8zM382 415.18H394.4V419H382zM413 415.18H425.4V419H413zM462.6 415.18H468.8V419H462.6zM512.2 415.18H518.4V419H512.2z"/>
<path fill="#6401d1" d="M245.6 58H251.8V59.9H245.6zM258 58H264.2V59.9H258zM289 58H295.2V59.9H289zM307.6 58H326.2V59.9H307.6zM363.4 58H369.6V59.9H363.4zM481.2 58H493.6V59.9H481.2zM78.2 59.9H84.4V65.05H78.2zM202.2 59.9H208.4V65.05H202.2zM450.2 59.9H456.4V65.05H450.2zM289 65.05H295.2V70.2H289zM375.8 65.05H388.2V70.2H375.8zM437.8 65.05H444V70.2H437.8zM487.4 65.05H506V70.2H487.4zM462.6 70.2H475V75.35H462.6zM487.4 70.2H499.8V75.35H487.4zM506 70.2H512.2V75.35H506zM388.2 75.35H394.4V80.5H388.2zM375.8 80.5H382V85.64H375.8zM388.2 80.5H400.6V85.64H388.2zM499.8 80.5H506V85.64H499.8zM431.6 85.64H437.8V90.79H431.6zM450.2 85.64H456.4V90.79H450.2zM388.2 90.79H394.4V95.94H388.2zM400.6 90.79H406.8V95.94H400.6zM431.6 90.79H444V95.94H431.6zM518.4 90.79H524V95.94H518.4zM400.6 95.94H406.8V101.09H400.6zM425.4 95.94H431.6V101.09H425.4zM437.8 95.94H450.2V101.09H437.8zM518.4 95.94H524V101.09H518.4zM388.2 106.24H394.4V111.39H388.2zM400.6 106.24H406.8V111.39H400.6zM382 111.39H388.2V116.54H382zM394.4 111.39H406.8V116.54H394.4zM475 111.39H487.4V116.54H475zM400.6 116.54H406.8V121.69H400.6zM444 116.54H450.2V121.69H444zM487.4 116.54H493.6V121.69H487.4zM233.2 121.69H239.4V126.84H233.2zM419.2 121.69H425.4V126.84H419.2zM462.6 121.69H475V126.84H462.6zM493.6 121.69H499.8V126.84H493.6zM394.4 126.84H406.8V131.99H394.4zM475 126.84H481.2V131.99H475zM258 131.99H264.2V137.13H258zM382 131.99H394.4V137.13H382zM406.8 131.99H413V137.13H406.8zM431.6 131.99H437.8V137.13H431.6zM468.8 131.99H475V137.13H468.8zM487.4 131.99H493.6V137.13H487.4zM518.4 131.99H524V137.13H518.4zM251.8 137.13H258V142.28H251.8zM425.4 137.13H431.6V142.28H425.4zM475 137.13H487.4V142.28H475zM382 142.28H394.4V147.43H382zM413 142.28H419.2V147.43H413zM425.4 142.28H437.8V147.43H425.4zM444 142.28H450.2V147.43H444zM78.2 147.43H90.6V152.58H78.2zM245.6 147.43H258V152.58H245.6zM419.2 147.43H425.4V152.58H419.2zM444 147.43H475V152.58H444zM84.4 152.58H90.6V157.73H84.4zM115.4 152.58H121.6V157.73H115.4zM400.6 152.58H406.8V157.73H400.6zM475 152.58H487.4V157.73H475zM506 152.58H518.4V157.73H506zM75 157.73H84.4V162.88H75zM382 157.73H388.2V162.88H382zM90.6 162.88H109.2V168.03H90.6zM127.8 162.88H134V168.03H127.8zM481.2 162.88H487.4V168.03H481.2zM493.6 162.88H499.8V168.03H493.6zM506 162.88H512.2V168.03H506zM518.4 162.88H524V168.03H518.4zM75 168.03H78.2V173.18H75zM127.8 168.03H134V173.18H127.8zM382 168.03H394.4V173.18H382zM400.6 168.03H406.8V173.18H400.6zM444 168.03H450.2V173.18H444zM462.6 168.03H468.8V173.18H462.6zM475 168.03H481.2V173.18H475zM512.2 168.03H518.4V173.18H512.2zM90.6 173.18H96.8V178.33H90.6zM251.8 173.18H258V178.33H251.8zM382 173.18H400.6V178.33H382zM406.8 173.18H413V178.33H406.8zM419.2 173.18H425.4V178.33H419.2zM239.4 178.33H245.6V183.48H239.4zM332.4 178.33H338.6V183.48H332.4zM239.4 183.48H245.6V188.62H239.4zM326.2 183.48H338.6V188.62H326.2zM369.6 183.48H375.8V188.62H369.6zM382 183.48H394.4V188.62H382zM251.8 188.62H258V193.77H251.8zM338.6 188.62H344.8V193.77H338.6zM351 188.62H357.2V193.77H351zM369.6 188.62H375.8V193.77H369.6zM245.6 193.77H251.8V198.92H245.6zM289 193.77H301.4V198.92H289zM363.4 193.77H369.6V198.92H363.4zM245.6 198.92H251.8V204.07H245.6zM289 198.92H295.2V204.07H289zM115.4 204.07H121.6V209.22H115.4zM289 204.07H295.2V209.22H289zM301.4 204.07H307.6V209.22H301.4zM332.4 204.07H338.6V209.22H332.4zM363.4 204.07H369.6V209.22H363.4zM84.4 209.22H96.8V214.37H84.4zM121.6 209.22H127.8V214.37H121.6zM326.2 209.22H332.4V214.37H326.2zM363.4 209.22H369.6V214.37H363.4zM245.6 214.37H251.8V219.52H245.6zM351 214.37H357.2V219.52H351zM363.4 214.37H369.6V219.52H363.4zM394.4 214.37H400.6V219.52H394.4zM512.2 214.37H524V219.52H512.2zM258 219.52H264.2V224.67H258zM320 219.52H326.2V224.67H320zM332.4 219.52H338.6V224.67H332.4zM264.2 224.67H270.4V229.82H264.2zM400.6 224.67H406.8V229.82H400.6zM84.4 229.82H90.6V234.97H84.4zM270.4 229.82H282.8V234.97H270.4zM320 229.82H332.4V234.97H320zM351 229.82H357.2V234.97H351zM406.8 229.82H413V234.97H406.8zM258 234.97H264.2V240.12H258zM276.6 234.97H282.8V240.12H276.6zM301.4 234.97H307.6V240.12H301.4zM320 234.97H326.2V240.12H320zM344.8 234.97H351V240.12H344.8zM165 240.12H171.2V245.26H165zM258 240.12H264.2V245.26H258zM270.4 240.12H276.6V245.26H270.4zM301.4 240.12H313.8V245.26H301.4zM512.2 240.12H518.4V245.26H512.2zM103 245.26H115.4V250.41H103zM165 245.26H171.2V250.41H165zM258 245.26H264.2V250.41H258zM357.2 245.26H363.4V250.41H357.2zM369.6 245.26H382V250.41H369.6zM406.8 245.26H413V250.41H406.8zM115.4 250.41H121.6V255.56H115.4zM332.4 250.41H338.6V255.56H332.4zM357.2 250.41H363.4V255.56H357.2zM258 255.56H264.2V260.71H258zM307.6 255.56H313.8V260.71H307.6zM326.2 255.56H338.6V260.71H326.2zM351 255.56H357.2V260.71H351zM121.6 260.71H127.8V265.86H121.6zM183.6 260.71H189.8V265.86H183.6zM251.8 260.71H258V265.86H251.8zM326.2 260.71H332.4V265.86H326.2zM388.2 260.71H394.4V265.86H388.2zM78.2 265.86H84.4V271.01H78.2zM115.4 265.86H127.8V271.01H115.4zM165 265.86H171.2V271.01H165zM183.6 265.86H189.8V271.01H183.6zM276.6 271.01H282.8V276.16H276.6zM406.8 271.01H413V276.16H406.8zM115.4 276.16H121.6V281.31H115.4zM282.8 276.16H289V281.31H282.8zM295.2 276.16H301.4V281.31H295.2zM382 276.16H388.2V281.31H382zM406.8 276.16H413V281.31H406.8zM258 281.31H276.6V286.46H258zM289 281.31H295.2V286.46H289zM332.4 281.31H338.6V286.46H332.4zM506 281.31H512.2V286.46H506zM109.2 286.46H115.4V291.61H109.2zM183.6 286.46H189.8V291.61H183.6zM276.6 286.46H282.8V291.61H276.6zM301.4 286.46H307.6V291.61H301.4zM382 286.46H388.2V291.61H382zM506 286.46H512.2V291.61H506zM109.2 291.61H115.4V296.75H109.2zM158.8 291.61H165V296.75H158.8zM189.8 291.61H196V296.75H189.8zM245.6 291.61H251.8V296.75H245.6zM419.2 291.61H431.6V296.75H419.2zM506 291.61H512.2V296.75H506zM96.8 296.75H103V301.9H96.8zM109.2 296.75H115.4V301.9H109.2zM146.4 296.75H158.8V301.9H146.4zM165 296.75H171.2V301.9H165zM233.2 296.75H245.6V301.9H233.2zM493.6 296.75H512.2V301.9H493.6zM177.4 301.9H183.6V307.05H177.4zM245.6 301.9H251.8V307.05H245.6zM499.8 301.9H506V307.05H499.8zM140.2 307.05H146.4V312.2H140.2zM233.2 307.05H239.4V312.2H233.2zM431.6 307.05H437.8V312.2H431.6zM140.2 312.2H146.4V317.35H140.2zM171.2 312.2H183.6V317.35H171.2zM208.4 312.2H227V317.35H208.4zM239.4 312.2H251.8V317.35H239.4zM487.4 312.2H499.8V317.35H487.4zM214.6 317.35H220.8V322.5H214.6zM227 317.35H233.2V322.5H227zM239.4 317.35H245.6V322.5H239.4zM468.8 317.35H487.4V322.5H468.8zM506 317.35H512.2V322.5H506zM202.2 322.5H208.4V327.65H202.2zM220.8 322.5H233.2V327.65H220.8zM506 322.5H512.2V327.65H506zM189.8 327.65H196V332.8H189.8zM202.2 327.65H208.4V332.8H202.2zM444 327.65H450.2V332.8H444zM493.6 327.65H499.8V332.8H493.6zM196 332.8H202.2V337.95H196zM245.6 332.8H251.8V337.95H245.6zM183.6 337.95H189.8V343.09H183.6zM493.6 343.09H506V348.24H493.6zM518.4 343.09H524V348.24H518.4zM75 348.24H78.2V353.39H75zM208.4 348.24H214.6V353.39H208.4zM388.2 348.24H400.6V353.39H388.2zM413 348.24H419.2V353.39H413zM468.8 348.24H475V353.39H468.8zM245.6 353.39H251.8V358.54H245.6zM394.4 353.39H400.6V358.54H394.4zM208.4 358.54H214.6V363.69H208.4zM357.2 358.54H369.6V363.69H357.2zM406.8 358.54H413V363.69H406.8zM419.2 358.54H425.4V363.69H419.2zM499.8 358.54H506V363.69H499.8zM75 363.69H78.2V368.84H75zM115.4 363.69H121.6V368.84H115.4zM152.6 363.69H158.8V368.84H152.6zM171.2 363.69H177.4V368.84H171.2zM239.4 363.69H245.6V368.84H239.4zM363.4 363.69H369.6V368.84H363.4zM425.4 363.69H431.6V368.84H425.4zM437.8 363.69H444V368.84H437.8zM512.2 363.69H518.4V368.84H512.2zM75 368.84H78.2V373.99H75zM109.2 368.84H121.6V373.99H109.2zM146.4 368.84H152.6V373.99H146.4zM165 368.84H171.2V373.99H165zM227 368.84H233.2V373.99H227zM245.6 368.84H251.8V373.99H245.6zM369.6 368.84H375.8V373.99H369.6zM425.4 368.84H431.6V373.99H425.4zM506 368.84H512.2V373.99H506zM90.6 373.99H96.8V379.14H90.6zM171.2 373.99H177.4V379.14H171.2zM208.4 373.99H214.6V379.14H208.4zM251.8 373.99H258V379.14H251.8zM394.4 373.99H400.6V379.14H394.4zM425.4 373.99H437.8V379.14H425.4zM444 373.99H450.2V379.14H444zM475 373.99H481.2V379.14H475zM506 373.99H512.2V379.14H506zM78.2 379.14H84.4V384.29H78.2zM437.8 379.14H456.4V384.29H437.8zM493.6 379.14H499.8V384.29H493.6zM220.8 384.29H227V389.44H220.8zM239.4 384.29H245.6V389.44H239.4zM264.2 384.29H270.4V389.44H264.2zM462.6 384.29H468.8V389.44H462.6zM146.4 389.44H152.6V394.58H146.4zM251.8 389.44H270.4V394.58H251.8zM295.2 389.44H313.8V394.58H295.2zM320 389.44H326.2V394.58H320zM487.4 389.44H493.6V394.58H487.4zM152.6 394.58H158.8V399.73H152.6zM165 394.58H171.2V399.73H165zM233.2 394.58H258V399.73H233.2zM270.4 394.58H276.6V399.73H270.4zM295.2 394.58H301.4V399.73H295.2zM146.4 399.73H152.6V404.88H146.4zM227 399.73H245.6V404.88H227zM264.2 399.73H270.4V404.88H264.2zM499.8 399.73H506V404.88H499.8zM90.6 404.88H103V410.03H90.6zM171.2 404.88H183.6V410.03H171.2zM382 404.88H388.2V410.03H382zM406.8 404.88H425.4V410.03H406.8zM499.8 404.88H506V410.03H499.8zM512.2 404.88H518.4V410.03H512.2zM96.8 410.03H109.2V415.18H96.8zM152.6 410.03H165V415.18H152.6zM214.6 410.03H220.8V415.18H214.6zM382 410.03H394.4V415.18H382zM413 410.03H419.2V415.18H413zM506 410.03H518.4V415.18H506zM233.2 415.18H239.4V419H233.2z"/>
<path fill="#6801dd" d="M75 58H78.2V59.9H75zM196 58H233.2V59.9H196zM251.8 58H258V59.9H251.8zM270.4 58H276.6V59.9H270.4zM282.8 58H289V59.9H282.8zM301.4 58H307.6V59.9H301.4zM332.4 58H338.6V59.9H332.4zM351 58H357.2V59.9H351zM369.6 58H375.8V59.9H369.6zM382 58H388.2V59.9H382zM475 58H481.2V59.9H475zM493.6 58H512.2V59.9H493.6zM75 59.9H78.2V65.05H75zM487.4 59.9H493.6V65.05H487.4zM499.8 59.9H506V65.05H499.8zM512.2 59.9H524V65.05H512.2zM202.2 65.05H208.4V70.2H202.2zM518.4 65.05H524V70.2H518.4zM75 70.2H78.2V75.35H75zM282.8 70.2H295.2V75.35H282.8zM382 70.2H388.2V75.35H382zM512.2 70.2H518.4V75.35H512.2zM406.8 75.35H413V80.5H406.8zM406.8 80.5H413V85.64H406.8zM444 80.5H450.2V85.64H444zM506 80.5H512.2V85.64H506zM437.8 85.64H444V90.79H437.8zM512.2 85.64H518.4V90.79H512.2zM419.2 101.09H425.4V106.24H419.2zM394.4 106.24H400.6V111.39H394.4zM388.2 111.39H394.4V116.54H388.2zM406.8 116.54H413V121.69H406.8zM493.6 116.54H499.8V121.69H493.6zM506 116.54H512.2V121.69H506zM382 121.69H394.4V126.84H382zM499.8 121.69H506V126.84H499.8zM512.2 121.69H518.4V126.84H512.2zM382 126.84H388.2V131.99H382zM419.2 126.84H425.4V131.99H419.2zM431.6 126.84H437.8V131.99H431.6zM481.2 126.84H487.4V131.99H481.2zM512.2 126.84H518.4V131.99H512.2zM413 131.99H425.4V137.13H413zM475 131.99H487.4V137.13H475zM512.2 131.99H518.4V137.13H512.2zM258 137.13H264.2V142.28H258zM382 137.13H388.2V142.28H382zM413 137.13H419.2V142.28H413zM431.6 137.13H437.8V142.28H431.6zM487.4 137.13H493.6V142.28H487.4zM258 142.28H264.2V147.43H258zM419.2 142.28H425.4V147.43H419.2zM493.6 142.28H506V147.43H493.6zM413 147.43H419.2V152.58H413zM431.6 147.43H437.8V152.58H431.6zM499.8 147.43H506V152.58H499.8zM450.2 152.58H456.4V157.73H450.2zM493.6 152.58H499.8V157.73H493.6zM84.4 157.73H90.6V162.88H84.4zM109.2 157.73H121.6V162.88H109.2zM444 157.73H456.4V162.88H444zM462.6 157.73H475V162.88H462.6zM493.6 157.73H499.8V162.88H493.6zM444 162.88H450.2V168.03H444zM462.6 162.88H475V168.03H462.6zM499.8 162.88H506V168.03H499.8zM245.6 168.03H251.8V173.18H245.6zM406.8 168.03H413V173.18H406.8zM245.6 173.18H251.8V178.33H245.6zM382 178.33H388.2V183.48H382zM245.6 183.48H251.8V188.62H245.6zM313.8 183.48H326.2V188.62H313.8zM375.8 183.48H382V188.62H375.8zM245.6 188.62H251.8V193.77H245.6zM270.4 188.62H282.8V193.77H270.4zM375.8 188.62H382V193.77H375.8zM388.2 188.62H394.4V193.77H388.2zM84.4 193.77H90.6V198.92H84.4zM258 193.77H270.4V198.92H258zM307.6 193.77H313.8V198.92H307.6zM357.2 193.77H363.4V198.92H357.2zM382 193.77H388.2V198.92H382zM78.2 198.92H84.4V204.07H78.2zM115.4 198.92H127.8V204.07H115.4zM301.4 198.92H307.6V204.07H301.4zM332.4 198.92H338.6V204.07H332.4zM357.2 198.92H363.4V204.07H357.2zM382 198.92H388.2V204.07H382zM127.8 204.07H134V209.22H127.8zM152.6 204.07H158.8V209.22H152.6zM245.6 204.07H251.8V209.22H245.6zM282.8 204.07H289V209.22H282.8zM307.6 204.07H313.8V209.22H307.6zM326.2 204.07H332.4V209.22H326.2zM369.6 204.07H382V209.22H369.6zM158.8 209.22H165V214.37H158.8zM245.6 209.22H251.8V214.37H245.6zM282.8 209.22H289V214.37H282.8zM369.6 209.22H375.8V214.37H369.6zM270.4 214.37H276.6V219.52H270.4zM307.6 214.37H313.8V219.52H307.6zM320 214.37H326.2V219.52H320zM332.4 214.37H338.6V219.52H332.4zM78.2 219.52H84.4V224.67H78.2zM251.8 219.52H258V224.67H251.8zM313.8 219.52H320V224.67H313.8zM258 224.67H264.2V229.82H258zM326.2 224.67H332.4V229.82H326.2zM344.8 229.82H351V234.97H344.8zM165 234.97H171.2V240.12H165zM270.4 234.97H276.6V240.12H270.4zM307.6 234.97H313.8V240.12H307.6zM326.2 234.97H332.4V240.12H326.2zM406.8 234.97H419.2V240.12H406.8zM121.6 240.12H127.8V245.26H121.6zM313.8 240.12H326.2V245.26H313.8zM332.4 240.12H338.6V245.26H332.4zM307.6 245.26H313.8V250.41H307.6zM158.8 250.41H165V255.56H158.8zM251.8 250.41H258V255.56H251.8zM326.2 250.41H332.4V255.56H326.2zM338.6 250.41H344.8V255.56H338.6zM121.6 255.56H127.8V260.71H121.6zM152.6 255.56H165V260.71H152.6zM338.6 255.56H351V260.71H338.6zM127.8 265.86H152.6V271.01H127.8zM158.8 265.86H165V271.01H158.8zM183.6 271.01H189.8V276.16H183.6zM90.6 276.16H103V281.31H90.6zM183.6 276.16H189.8V281.31H183.6zM75 281.31H78.2V286.46H75zM177.4 281.31H189.8V286.46H177.4zM276.6 281.31H289V286.46H276.6zM295.2 281.31H301.4V286.46H295.2zM326.2 281.31H332.4V286.46H326.2zM382 281.31H394.4V286.46H382zM400.6 281.31H413V286.46H400.6zM493.6 281.31H499.8V286.46H493.6zM121.6 286.46H127.8V291.61H121.6zM171.2 286.46H183.6V291.61H171.2zM282.8 286.46H289V291.61H282.8zM413 286.46H419.2V291.61H413zM512.2 286.46H524V291.61H512.2zM493.6 291.61H499.8V296.75H493.6zM103 296.75H109.2V301.9H103zM189.8 296.75H196V301.9H189.8zM245.6 296.75H251.8V301.9H245.6zM363.4 296.75H369.6V301.9H363.4zM171.2 301.9H177.4V307.05H171.2zM202.2 301.9H208.4V307.05H202.2zM425.4 301.9H431.6V307.05H425.4zM506 301.9H512.2V307.05H506zM177.4 307.05H183.6V312.2H177.4zM189.8 307.05H196V312.2H189.8zM220.8 307.05H227V312.2H220.8zM357.2 307.05H363.4V312.2H357.2zM487.4 307.05H493.6V312.2H487.4zM499.8 307.05H512.2V312.2H499.8zM146.4 312.2H152.6V317.35H146.4zM227 312.2H233.2V317.35H227zM307.6 312.2H313.8V317.35H307.6zM437.8 312.2H444V317.35H437.8zM177.4 317.35H189.8V322.5H177.4zM196 317.35H202.2V322.5H196zM220.8 317.35H227V322.5H220.8zM332.4 317.35H344.8V322.5H332.4zM351 317.35H357.2V322.5H351zM444 317.35H450.2V322.5H444zM487.4 317.35H506V322.5H487.4zM183.6 322.5H189.8V327.65H183.6zM196 322.5H202.2V327.65H196zM208.4 322.5H214.6V327.65H208.4zM444 322.5H456.4V327.65H444zM487.4 322.5H506V327.65H487.4zM208.4 327.65H214.6V332.8H208.4zM475 327.65H481.2V332.8H475zM183.6 332.8H189.8V337.95H183.6zM239.4 332.8H245.6V337.95H239.4zM251.8 332.8H258V337.95H251.8zM450.2 332.8H456.4V337.95H450.2zM475 332.8H481.2V337.95H475zM208.4 337.95H214.6V343.09H208.4zM481.2 337.95H487.4V343.09H481.2zM512.2 337.95H524V343.09H512.2zM78.2 343.09H84.4V348.24H78.2zM208.4 343.09H214.6V348.24H208.4zM394.4 343.09H400.6V348.24H394.4zM512.2 343.09H518.4V348.24H512.2zM78.2 348.24H84.4V353.39H78.2zM233.2 348.24H239.4V353.39H233.2zM245.6 348.24H251.8V353.39H245.6zM363.4 348.24H369.6V353.39H363.4zM382 348.24H388.2V353.39H382zM400.6 348.24H406.8V353.39H400.6zM419.2 348.24H425.4V353.39H419.2zM506 348.24H518.4V353.39H506zM388.2 353.39H394.4V358.54H388.2zM400.6 353.39H406.8V358.54H400.6zM233.2 358.54H239.4V363.69H233.2zM338.6 358.54H344.8V363.69H338.6zM351 358.54H357.2V363.69H351zM425.4 358.54H431.6V363.69H425.4zM468.8 358.54H475V363.69H468.8zM208.4 363.69H214.6V368.84H208.4zM245.6 363.69H258V368.84H245.6zM332.4 363.69H338.6V368.84H332.4zM369.6 363.69H375.8V368.84H369.6zM413 363.69H419.2V368.84H413zM431.6 363.69H437.8V368.84H431.6zM444 363.69H450.2V368.84H444zM90.6 368.84H96.8V373.99H90.6zM103 368.84H109.2V373.99H103zM127.8 368.84H134V373.99H127.8zM140.2 368.84H146.4V373.99H140.2zM171.2 368.84H177.4V373.99H171.2zM208.4 368.84H227V373.99H208.4zM332.4 368.84H338.6V373.99H332.4zM363.4 368.84H369.6V373.99H363.4zM444 368.84H450.2V373.99H444zM499.8 368.84H506V373.99H499.8zM512.2 368.84H518.4V373.99H512.2zM84.4 373.99H90.6V379.14H84.4zM220.8 373.99H239.4V379.14H220.8zM332.4 373.99H338.6V379.14H332.4zM462.6 373.99H475V379.14H462.6zM227 379.14H233.2V384.29H227zM258 379.14H264.2V384.29H258zM462.6 379.14H468.8V384.29H462.6zM307.6 384.29H313.8V389.44H307.6zM326.2 384.29H338.6V389.44H326.2zM481.2 384.29H493.6V389.44H481.2zM152.6 389.44H165V394.58H152.6zM227 389.44H233.2V394.58H227zM406.8 389.44H413V394.58H406.8zM146.4 394.58H152.6V399.73H146.4zM258 394.58H264.2V399.73H258zM419.2 394.58H425.4V399.73H419.2zM165 404.88H171.2V410.03H165zM388.2 404.88H394.4V410.03H388.2zM165 415.18H171.2V419H165zM183.6 415.18H196V419H183.6z"/>
<path fill="#6c02e7" d="M233.2 58H245.6V59.9H233.2zM264.2 58H270.4V59.9H264.2zM276.6 58H282.8V59.9H276.6zM295.2 58H301.4V59.9H295.2zM338.6 58H351V59.9H338.6zM357.2 58H363.4V59.9H357.2zM375.8 58H382V59.9H375.8zM406.8 58H413V59.9H406.8zM456.4 58H475V59.9H456.4zM512.2 58H518.4V59.9H512.2zM382 59.9H388.2V65.05H382zM456.4 59.9H462.6V65.05H456.4zM468.8 59.9H487.4V65.05H468.8zM506 59.9H512.2V65.05H506zM75 65.05H78.2V70.2H75zM400.6 65.05H406.8V70.2H400.6zM462.6 65.05H468.8V70.2H462.6zM475 65.05H487.4V70.2H475zM506 65.05H518.4V70.2H506zM394.4 70.2H406.8V75.35H394.4zM394.4 75.35H400.6V80.5H394.4zM413 75.35H425.4V80.5H413zM506 75.35H524V80.5H506zM406.8 85.64H413V90.79H406.8zM413 90.79H425.4V95.94H413zM512.2 90.79H518.4V95.94H512.2zM400.6 101.09H406.8V106.24H400.6zM413 106.24H419.2V111.39H413zM406.8 111.39H413V116.54H406.8zM388.2 116.54H394.4V121.69H388.2zM413 116.54H419.2V121.69H413zM400.6 121.69H419.2V126.84H400.6zM406.8 126.84H413V131.99H406.8zM493.6 126.84H499.8V131.99H493.6zM493.6 131.99H499.8V137.13H493.6zM419.2 137.13H425.4V142.28H419.2zM251.8 142.28H258V147.43H251.8zM103 147.43H115.4V152.58H103zM406.8 147.43H413V152.58H406.8zM493.6 147.43H499.8V152.58H493.6zM413 152.58H419.2V157.73H413zM431.6 152.58H437.8V157.73H431.6zM456.4 152.58H468.8V157.73H456.4zM499.8 152.58H506V157.73H499.8zM431.6 157.73H444V162.88H431.6zM75 162.88H84.4V168.03H75zM121.6 162.88H127.8V168.03H121.6zM437.8 162.88H444V168.03H437.8zM450.2 162.88H456.4V168.03H450.2zM84.4 168.03H96.8V173.18H84.4zM121.6 168.03H127.8V173.18H121.6zM239.4 168.03H245.6V173.18H239.4zM394.4 168.03H400.6V173.18H394.4zM456.4 168.03H462.6V173.18H456.4zM233.2 173.18H245.6V178.33H233.2zM233.2 178.33H239.4V183.48H233.2zM251.8 183.48H258V188.62H251.8zM313.8 188.62H320V193.77H313.8zM332.4 188.62H338.6V193.77H332.4zM382 188.62H388.2V193.77H382zM276.6 198.92H282.8V204.07H276.6zM313.8 198.92H320V204.07H313.8zM313.8 204.07H320V209.22H313.8zM357.2 204.07H363.4V209.22H357.2zM78.2 209.22H84.4V214.37H78.2zM96.8 209.22H103V214.37H96.8zM109.2 209.22H115.4V214.37H109.2zM152.6 209.22H158.8V214.37H152.6zM78.2 214.37H84.4V219.52H78.2zM251.8 214.37H258V219.52H251.8zM313.8 214.37H320V219.52H313.8zM326.2 214.37H332.4V219.52H326.2zM158.8 219.52H165V224.67H158.8zM326.2 219.52H332.4V224.67H326.2zM84.4 224.67H90.6V229.82H84.4zM332.4 224.67H351V229.82H332.4zM388.2 224.67H394.4V229.82H388.2zM338.6 229.82H344.8V234.97H338.6zM96.8 234.97H103V240.12H96.8zM264.2 234.97H270.4V240.12H264.2zM375.8 234.97H382V240.12H375.8zM103 240.12H109.2V245.26H103zM326.2 240.12H332.4V245.26H326.2zM338.6 240.12H344.8V245.26H338.6zM158.8 245.26H165V250.41H158.8zM313.8 245.26H326.2V250.41H313.8zM332.4 245.26H338.6V250.41H332.4zM121.6 250.41H127.8V255.56H121.6zM258 250.41H264.2V255.56H258zM344.8 250.41H357.2V255.56H344.8zM394.4 250.41H400.6V255.56H394.4zM109.2 255.56H115.4V260.71H109.2zM127.8 255.56H134V260.71H127.8zM146.4 255.56H152.6V260.71H146.4zM251.8 255.56H258V260.71H251.8zM109.2 260.71H115.4V265.86H109.2zM152.6 265.86H158.8V271.01H152.6zM75 276.16H78.2V281.31H75zM171.2 276.16H183.6V281.31H171.2zM90.6 281.31H96.8V286.46H90.6zM171.2 281.31H177.4V286.46H171.2zM394.4 281.31H400.6V286.46H394.4zM115.4 286.46H121.6V291.61H115.4zM134 286.46H140.2V291.61H134zM270.4 286.46H276.6V291.61H270.4zM406.8 286.46H413V291.61H406.8zM493.6 286.46H506V291.61H493.6zM127.8 291.61H134V296.75H127.8zM152.6 291.61H158.8V296.75H152.6zM177.4 291.61H183.6V296.75H177.4zM301.4 291.61H307.6V296.75H301.4zM375.8 291.61H382V296.75H375.8zM413 291.61H419.2V296.75H413zM84.4 296.75H90.6V301.9H84.4zM171.2 296.75H183.6V301.9H171.2zM196 296.75H202.2V301.9H196zM301.4 296.75H307.6V301.9H301.4zM419.2 296.75H425.4V301.9H419.2zM512.2 296.75H518.4V301.9H512.2zM140.2 301.9H146.4V307.05H140.2zM239.4 301.9H245.6V307.05H239.4zM301.4 301.9H307.6V307.05H301.4zM363.4 301.9H369.6V307.05H363.4zM419.2 301.9H425.4V307.05H419.2zM183.6 307.05H189.8V312.2H183.6zM196 307.05H202.2V312.2H196zM251.8 307.05H258V312.2H251.8zM301.4 307.05H307.6V312.2H301.4zM425.4 307.05H431.6V312.2H425.4zM152.6 312.2H158.8V317.35H152.6zM165 312.2H171.2V317.35H165zM183.6 312.2H189.8V317.35H183.6zM196 312.2H202.2V317.35H196zM301.4 312.2H307.6V317.35H301.4zM499.8 312.2H512.2V317.35H499.8zM245.6 317.35H251.8V322.5H245.6zM437.8 317.35H444V322.5H437.8zM456.4 317.35H468.8V322.5H456.4zM189.8 322.5H196V327.65H189.8zM214.6 322.5H220.8V327.65H214.6zM245.6 322.5H251.8V327.65H245.6zM481.2 322.5H487.4V327.65H481.2zM177.4 327.65H183.6V332.8H177.4zM196 327.65H202.2V332.8H196zM251.8 327.65H258V332.8H251.8zM437.8 327.65H444V332.8H437.8zM450.2 327.65H456.4V332.8H450.2zM468.8 327.65H475V332.8H468.8zM481.2 327.65H487.4V332.8H481.2zM518.4 327.65H524V332.8H518.4zM189.8 332.8H196V337.95H189.8zM202.2 332.8H208.4V337.95H202.2zM233.2 332.8H239.4V337.95H233.2zM406.8 332.8H425.4V337.95H406.8zM437.8 332.8H450.2V337.95H437.8zM468.8 332.8H475V337.95H468.8zM487.4 332.8H493.6V337.95H487.4zM512.2 332.8H524V337.95H512.2zM233.2 337.95H239.4V343.09H233.2zM251.8 337.95H258V343.09H251.8zM437.8 337.95H444V343.09H437.8zM450.2 337.95H456.4V343.09H450.2zM487.4 337.95H499.8V343.09H487.4zM245.6 343.09H258V348.24H245.6zM369.6 343.09H382V348.24H369.6zM475 343.09H481.2V348.24H475zM227 348.24H233.2V353.39H227zM351 348.24H363.4V353.39H351zM406.8 348.24H413V353.39H406.8zM462.6 348.24H468.8V353.39H462.6zM78.2 353.39H84.4V358.54H78.2zM171.2 353.39H177.4V358.54H171.2zM233.2 353.39H245.6V358.54H233.2zM251.8 353.39H258V358.54H251.8zM351 353.39H363.4V358.54H351zM413 353.39H425.4V358.54H413zM450.2 353.39H456.4V358.54H450.2zM493.6 353.39H499.8V358.54H493.6zM506 353.39H512.2V358.54H506zM75 358.54H78.2V363.69H75zM251.8 358.54H258V363.69H251.8zM444 358.54H450.2V363.69H444zM456.4 358.54H462.6V363.69H456.4zM475 358.54H481.2V363.69H475zM506 358.54H524V363.69H506zM468.8 363.69H475V368.84H468.8zM506 363.69H512.2V368.84H506zM518.4 363.69H524V368.84H518.4zM78.2 368.84H84.4V373.99H78.2zM96.8 368.84H103V373.99H96.8zM357.2 368.84H363.4V373.99H357.2zM456.4 368.84H462.6V373.99H456.4zM475 368.84H481.2V373.99H475zM518.4 368.84H524V373.99H518.4zM258 373.99H264.2V379.14H258zM437.8 373.99H444V379.14H437.8zM450.2 373.99H456.4V379.14H450.2zM512.2 373.99H518.4V379.14H512.2zM313.8 379.14H320V384.29H313.8zM338.6 379.14H344.8V384.29H338.6zM481.2 379.14H487.4V384.29H481.2zM227 384.29H239.4V389.44H227zM270.4 384.29H307.6V389.44H270.4zM338.6 384.29H344.8V389.44H338.6zM313.8 389.44H320V394.58H313.8zM400.6 394.58H406.8V399.73H400.6zM400.6 399.73H406.8V404.88H400.6zM413 399.73H419.2V404.88H413z"/>
<path fill="#7002f0" d="M388.2 58H394.4V59.9H388.2zM518.4 58H524V59.9H518.4zM394.4 59.9H400.6V65.05H394.4zM388.2 65.05H394.4V70.2H388.2zM468.8 65.05H475V70.2H468.8zM425.4 75.35H431.6V80.5H425.4zM444 75.35H450.2V80.5H444zM431.6 80.5H437.8V85.64H431.6zM400.6 85.64H406.8V90.79H400.6zM419.2 95.94H425.4V101.09H419.2zM413 111.39H419.2V116.54H413zM388.2 126.84H394.4V131.99H388.2zM413 126.84H419.2V131.99H413zM493.6 137.13H506V142.28H493.6zM103 152.58H115.4V157.73H103zM406.8 152.58H413V157.73H406.8zM103 157.73H109.2V162.88H103zM413 157.73H419.2V162.88H413zM456.4 157.73H462.6V162.88H456.4zM84.4 162.88H90.6V168.03H84.4zM406.8 162.88H413V168.03H406.8zM456.4 162.88H462.6V168.03H456.4zM78.2 168.03H84.4V173.18H78.2zM413 168.03H419.2V173.18H413zM431.6 168.03H437.8V173.18H431.6zM75 178.33H78.2V183.48H75zM258 178.33H264.2V183.48H258zM75 183.48H84.4V188.62H75zM264.2 188.62H270.4V193.77H264.2zM78.2 193.77H84.4V198.92H78.2zM276.6 193.77H282.8V198.92H276.6zM313.8 193.77H320V198.92H313.8zM264.2 198.92H270.4V204.07H264.2zM363.4 198.92H369.6V204.07H363.4zM78.2 204.07H84.4V209.22H78.2zM146.4 204.07H152.6V209.22H146.4zM251.8 209.22H258V214.37H251.8zM313.8 209.22H326.2V214.37H313.8zM84.4 214.37H90.6V219.52H84.4zM158.8 214.37H165V219.52H158.8zM258 214.37H270.4V219.52H258zM75 219.52H78.2V224.67H75zM90.6 229.82H96.8V234.97H90.6zM400.6 229.82H406.8V234.97H400.6zM332.4 234.97H338.6V240.12H332.4zM406.8 240.12H413V245.26H406.8zM351 245.26H357.2V250.41H351zM320 250.41H326.2V255.56H320zM388.2 255.56H394.4V260.71H388.2zM75 271.01H78.2V276.16H75zM84.4 271.01H90.6V276.16H84.4zM121.6 271.01H127.8V276.16H121.6zM165 271.01H171.2V276.16H165zM115.4 281.31H121.6V286.46H115.4zM78.2 286.46H90.6V291.61H78.2zM289 286.46H295.2V291.61H289zM90.6 291.61H96.8V296.75H90.6zM512.2 291.61H518.4V296.75H512.2zM78.2 296.75H84.4V301.9H78.2zM90.6 296.75H96.8V301.9H90.6zM121.6 296.75H127.8V301.9H121.6zM183.6 301.9H189.8V307.05H183.6zM251.8 312.2H258V317.35H251.8zM357.2 312.2H363.4V317.35H357.2zM189.8 317.35H196V322.5H189.8zM251.8 317.35H258V322.5H251.8zM326.2 317.35H332.4V322.5H326.2zM177.4 322.5H183.6V327.65H177.4zM239.4 322.5H245.6V327.65H239.4zM468.8 322.5H475V327.65H468.8zM233.2 327.65H245.6V332.8H233.2zM177.4 332.8H183.6V337.95H177.4zM208.4 332.8H214.6V337.95H208.4zM227 332.8H233.2V337.95H227zM425.4 332.8H437.8V337.95H425.4zM78.2 337.95H84.4V343.09H78.2zM227 337.95H233.2V343.09H227zM394.4 337.95H400.6V343.09H394.4zM475 337.95H481.2V343.09H475zM75 343.09H78.2V348.24H75zM227 343.09H233.2V348.24H227zM239.4 343.09H245.6V348.24H239.4zM481.2 343.09H493.6V348.24H481.2zM251.8 348.24H258V353.39H251.8zM456.4 348.24H462.6V353.39H456.4zM493.6 348.24H499.8V353.39H493.6zM518.4 348.24H524V353.39H518.4zM75 353.39H78.2V358.54H75zM214.6 353.39H220.8V358.54H214.6zM227 353.39H233.2V358.54H227zM456.4 353.39H462.6V358.54H456.4zM468.8 353.39H481.2V358.54H468.8zM499.8 353.39H506V358.54H499.8zM512.2 353.39H524V358.54H512.2zM78.2 358.54H84.4V363.69H78.2zM171.2 358.54H177.4V363.69H171.2zM214.6 358.54H220.8V363.69H214.6zM227 358.54H233.2V363.69H227zM431.6 358.54H444V363.69H431.6zM450.2 358.54H456.4V363.69H450.2zM462.6 358.54H468.8V363.69H462.6zM78.2 363.69H90.6V368.84H78.2zM227 363.69H233.2V368.84H227zM357.2 363.69H363.4V368.84H357.2zM450.2 363.69H456.4V368.84H450.2zM462.6 363.69H468.8V368.84H462.6zM475 363.69H481.2V368.84H475zM499.8 363.69H506V368.84H499.8zM84.4 368.84H90.6V373.99H84.4zM233.2 368.84H239.4V373.99H233.2zM258 368.84H264.2V373.99H258zM437.8 368.84H444V373.99H437.8zM462.6 368.84H475V373.99H462.6zM456.4 373.99H462.6V379.14H456.4zM332.4 379.14H338.6V384.29H332.4zM233.2 389.44H239.4V394.58H233.2zM406.8 394.58H413V399.73H406.8z"/>
<path fill="#7402f6" d="M326.2 58H332.4V59.9H326.2zM394.4 58H406.8V59.9H394.4zM388.2 59.9H394.4V65.05H388.2zM388.2 70.2H394.4V75.35H388.2zM431.6 70.2H450.2V75.35H431.6zM400.6 75.35H406.8V80.5H400.6zM431.6 75.35H437.8V80.5H431.6zM400.6 80.5H406.8V85.64H400.6zM413 85.64H419.2V90.79H413zM406.8 90.79H413V95.94H406.8zM406.8 95.94H413V101.09H406.8zM413 101.09H419.2V106.24H413zM499.8 126.84H506V131.99H499.8zM499.8 131.99H506V137.13H499.8zM425.4 147.43H431.6V152.58H425.4zM406.8 157.73H413V162.88H406.8zM419.2 168.03H431.6V173.18H419.2zM245.6 178.33H258V183.48H245.6zM258 183.48H264.2V188.62H258zM78.2 188.62H84.4V193.77H78.2zM258 188.62H264.2V193.77H258zM326.2 188.62H332.4V193.77H326.2zM270.4 198.92H276.6V204.07H270.4zM320 198.92H326.2V204.07H320zM75 204.07H78.2V209.22H75zM258 204.07H264.2V209.22H258zM320 204.07H326.2V209.22H320zM75 209.22H78.2V214.37H75zM270.4 209.22H276.6V214.37H270.4zM75 214.37H78.2V219.52H75zM332.4 229.82H338.6V234.97H332.4zM375.8 240.12H382V245.26H375.8zM171.2 271.01H183.6V276.16H171.2zM165 276.16H171.2V281.31H165zM121.6 281.31H127.8V286.46H121.6zM165 281.31H171.2V286.46H165zM165 286.46H171.2V291.61H165zM295.2 286.46H301.4V291.61H295.2zM388.2 286.46H394.4V291.61H388.2zM84.4 291.61H90.6V296.75H84.4zM165 291.61H171.2V296.75H165zM134 296.75H146.4V301.9H134zM518.4 296.75H524V301.9H518.4zM78.2 301.9H84.4V307.05H78.2zM115.4 301.9H121.6V307.05H115.4zM134 301.9H140.2V307.05H134zM189.8 301.9H196V307.05H189.8zM233.2 322.5H239.4V327.65H233.2zM251.8 322.5H258V327.65H251.8zM462.6 322.5H468.8V327.65H462.6zM475 322.5H481.2V327.65H475zM183.6 327.65H189.8V332.8H183.6zM227 327.65H233.2V332.8H227zM431.6 327.65H437.8V332.8H431.6zM456.4 327.65H468.8V332.8H456.4zM78.2 332.8H84.4V337.95H78.2zM400.6 332.8H406.8V337.95H400.6zM382 343.09H388.2V348.24H382zM450.2 343.09H456.4V348.24H450.2zM468.8 343.09H475V348.24H468.8zM450.2 348.24H456.4V353.39H450.2zM475 348.24H481.2V353.39H475zM487.4 348.24H493.6V353.39H487.4zM406.8 353.39H413V358.54H406.8zM462.6 353.39H468.8V358.54H462.6zM481.2 353.39H493.6V358.54H481.2zM487.4 358.54H499.8V363.69H487.4zM96.8 363.69H103V368.84H96.8zM214.6 363.69H220.8V368.84H214.6zM419.2 363.69H425.4V368.84H419.2zM450.2 368.84H456.4V373.99H450.2zM493.6 373.99H499.8V379.14H493.6zM413 394.58H419.2V399.73H413zM177.4 410.03H183.6V415.18H177.4z"/>
<path fill="#7803fb" d="M437.8 75.35H444V80.5H437.8zM437.8 80.5H444V85.64H437.8zM506 126.84H512.2V131.99H506zM506 131.99H512.2V137.13H506zM419.2 152.58H431.6V157.73H419.2zM419.2 157.73H425.4V162.88H419.2zM413 162.88H437.8V168.03H413zM320 188.62H326.2V193.77H320zM251.8 193.77H258V198.92H251.8zM270.4 193.77H276.6V198.92H270.4zM258 198.92H264.2V204.07H258zM264.2 204.07H282.8V209.22H264.2zM103 209.22H109.2V214.37H103zM264.2 209.22H270.4V214.37H264.2zM276.6 209.22H282.8V214.37H276.6zM84.4 219.52H90.6V224.67H84.4zM158.8 224.67H165V229.82H158.8zM103 234.97H109.2V240.12H103zM158.8 234.97H165V240.12H158.8zM127.8 240.12H134V245.26H127.8zM382 240.12H388.2V245.26H382zM127.8 245.26H134V250.41H127.8zM326.2 245.26H332.4V250.41H326.2zM338.6 245.26H351V250.41H338.6zM152.6 250.41H158.8V255.56H152.6zM388.2 250.41H394.4V255.56H388.2zM134 255.56H146.4V260.71H134zM75 265.86H78.2V271.01H75zM78.2 271.01H84.4V276.16H78.2zM78.2 276.16H90.6V281.31H78.2zM121.6 276.16H127.8V281.31H121.6zM78.2 281.31H84.4V286.46H78.2zM90.6 286.46H96.8V291.61H90.6zM264.2 286.46H270.4V291.61H264.2zM400.6 286.46H406.8V291.61H400.6zM78.2 291.61H84.4V296.75H78.2zM295.2 291.61H301.4V296.75H295.2zM382 291.61H388.2V296.75H382zM518.4 291.61H524V296.75H518.4zM75 296.75H78.2V301.9H75zM127.8 296.75H134V301.9H127.8zM183.6 296.75H189.8V301.9H183.6zM295.2 296.75H301.4V301.9H295.2zM369.6 296.75H375.8V301.9H369.6zM413 296.75H419.2V301.9H413zM109.2 301.9H115.4V307.05H109.2zM121.6 301.9H134V307.05H121.6zM196 301.9H202.2V307.05H196zM295.2 301.9H301.4V307.05H295.2zM413 301.9H419.2V307.05H413zM512.2 301.9H518.4V307.05H512.2zM127.8 307.05H140.2V312.2H127.8zM295.2 307.05H301.4V312.2H295.2zM419.2 307.05H425.4V312.2H419.2zM134 312.2H140.2V317.35H134zM158.8 312.2H165V317.35H158.8zM431.6 312.2H437.8V317.35H431.6zM127.8 317.35H134V322.5H127.8zM320 317.35H326.2V322.5H320zM351 322.5H357.2V327.65H351zM437.8 322.5H444V327.65H437.8zM456.4 322.5H462.6V327.65H456.4zM512.2 322.5H518.4V327.65H512.2zM220.8 327.65H227V332.8H220.8zM220.8 332.8H227V337.95H220.8zM75 337.95H78.2V343.09H75zM444 337.95H450.2V343.09H444zM456.4 337.95H462.6V343.09H456.4zM468.8 337.95H475V343.09H468.8zM84.4 343.09H90.6V348.24H84.4zM171.2 343.09H177.4V348.24H171.2zM233.2 343.09H239.4V348.24H233.2zM351 343.09H357.2V348.24H351zM363.4 343.09H369.6V348.24H363.4zM431.6 343.09H437.8V348.24H431.6zM462.6 343.09H468.8V348.24H462.6zM171.2 348.24H177.4V353.39H171.2zM425.4 348.24H431.6V353.39H425.4zM220.8 353.39H227V358.54H220.8zM344.8 353.39H351V358.54H344.8zM121.6 358.54H134V363.69H121.6zM165 358.54H171.2V363.69H165zM90.6 363.69H96.8V368.84H90.6zM258 363.69H264.2V368.84H258zM456.4 363.69H462.6V368.84H456.4zM493.6 363.69H499.8V368.84H493.6zM264.2 368.84H270.4V373.99H264.2zM326.2 368.84H332.4V373.99H326.2zM481.2 368.84H487.4V373.99H481.2zM493.6 368.84H499.8V373.99H493.6zM264.2 373.99H270.4V379.14H264.2zM320 373.99H332.4V379.14H320zM264.2 379.14H270.4V384.29H264.2zM307.6 379.14H313.8V384.29H307.6zM320 379.14H332.4V384.29H320z"/>
<path fill="#7c03fe" d="M400.6 59.9H406.8V65.05H400.6zM406.8 65.05H413V70.2H406.8zM425.4 70.2H431.6V75.35H425.4zM413 95.94H419.2V101.09H413zM406.8 106.24H413V111.39H406.8zM506 121.69H512.2V126.84H506zM134 204.07H146.4V209.22H134zM146.4 209.22H152.6V214.37H146.4zM258 209.22H264.2V214.37H258zM90.6 214.37H96.8V219.52H90.6zM152.6 214.37H158.8V219.52H152.6zM152.6 219.52H158.8V224.67H152.6zM158.8 229.82H165V234.97H158.8zM338.6 234.97H344.8V240.12H338.6zM134 240.12H140.2V245.26H134zM158.8 240.12H165V245.26H158.8zM115.4 255.56H121.6V260.71H115.4zM84.4 281.31H90.6V286.46H84.4zM127.8 286.46H134V291.61H127.8zM75 291.61H78.2V296.75H75zM134 291.61H140.2V296.75H134zM146.4 291.61H152.6V296.75H146.4zM406.8 291.61H413V296.75H406.8zM84.4 301.9H96.8V307.05H84.4zM103 301.9H109.2V307.05H103zM406.8 301.9H413V307.05H406.8zM295.2 312.2H301.4V317.35H295.2zM419.2 312.2H431.6V317.35H419.2zM134 317.35H146.4V322.5H134zM295.2 317.35H307.6V322.5H295.2zM313.8 317.35H320V322.5H313.8zM258 322.5H264.2V327.65H258zM214.6 327.65H220.8V332.8H214.6zM419.2 327.65H431.6V332.8H419.2zM456.4 332.8H468.8V337.95H456.4zM171.2 337.95H177.4V343.09H171.2zM357.2 343.09H363.4V348.24H357.2zM388.2 343.09H394.4V348.24H388.2zM456.4 343.09H462.6V348.24H456.4zM239.4 348.24H245.6V353.39H239.4zM481.2 348.24H487.4V353.39H481.2zM499.8 348.24H506V353.39H499.8zM425.4 353.39H431.6V358.54H425.4zM134 358.54H165V363.69H134zM258 358.54H264.2V363.69H258zM332.4 358.54H338.6V363.69H332.4zM109.2 363.69H115.4V368.84H109.2zM220.8 363.69H227V368.84H220.8zM481.2 363.69H487.4V368.84H481.2zM406.8 399.73H413V404.88H406.8zM165 410.03H177.4V415.18H165z"/>
<path fill="#8004ff" d="M406.8 70.2H413V75.35H406.8zM419.2 70.2H425.4V75.35H419.2zM75 188.62H78.2V193.77H75zM320 193.77H332.4V198.92H320zM75 198.92H78.2V204.07H75zM127.8 209.22H134V214.37H127.8zM109.2 214.37H121.6V219.52H109.2zM90.6 224.67H96.8V229.82H90.6zM96.8 229.82H103V234.97H96.8zM382 229.82H388.2V234.97H382zM382 234.97H388.2V240.12H382zM109.2 240.12H115.4V245.26H109.2zM394.4 240.12H406.8V245.26H394.4zM134 245.26H140.2V250.41H134zM127.8 250.41H152.6V255.56H127.8zM115.4 260.71H121.6V265.86H115.4zM127.8 271.01H134V276.16H127.8zM140.2 271.01H146.4V276.16H140.2zM158.8 271.01H165V276.16H158.8zM75 286.46H78.2V291.61H75zM152.6 286.46H165V291.61H152.6zM394.4 286.46H400.6V291.61H394.4zM406.8 296.75H413V301.9H406.8zM75 301.9H78.2V307.05H75zM413 307.05H419.2V312.2H413zM127.8 312.2H134V317.35H127.8zM146.4 317.35H152.6V322.5H146.4zM171.2 317.35H177.4V322.5H171.2zM307.6 317.35H313.8V322.5H307.6zM357.2 317.35H363.4V322.5H357.2zM512.2 317.35H518.4V322.5H512.2zM338.6 322.5H351V327.65H338.6zM258 327.65H264.2V332.8H258zM84.4 337.95H90.6V343.09H84.4zM462.6 337.95H468.8V343.09H462.6zM84.4 348.24H90.6V353.39H84.4zM344.8 348.24H351V353.39H344.8zM165 353.39H171.2V358.54H165zM115.4 358.54H121.6V363.69H115.4zM264.2 363.69H270.4V368.84H264.2zM270.4 368.84H276.6V373.99H270.4zM313.8 373.99H320V379.14H313.8zM481.2 373.99H487.4V379.14H481.2zM270.4 379.14H276.6V384.29H270.4z"/>
<path fill="#8305fe" d="M406.8 59.9H413V65.05H406.8zM394.4 65.05H400.6V70.2H394.4zM413 70.2H419.2V75.35H413zM425.4 157.73H431.6V162.88H425.4zM75 193.77H78.2V198.92H75zM326.2 198.92H332.4V204.07H326.2zM251.8 204.07H258V209.22H251.8zM140.2 209.22H146.4V214.37H140.2zM121.6 214.37H127.8V219.52H121.6zM90.6 219.52H96.8V224.67H90.6zM152.6 224.67H158.8V229.82H152.6zM103 229.82H109.2V234.97H103zM394.4 229.82H400.6V234.97H394.4zM121.6 234.97H134V240.12H121.6zM400.6 234.97H406.8V240.12H400.6zM152.6 245.26H158.8V250.41H152.6zM394.4 245.26H400.6V250.41H394.4zM134 271.01H140.2V276.16H134zM146.4 271.01H158.8V276.16H146.4zM127.8 281.31H146.4V286.46H127.8zM140.2 291.61H146.4V296.75H140.2zM270.4 291.61H282.8V296.75H270.4zM96.8 301.9H103V307.05H96.8zM512.2 312.2H518.4V317.35H512.2zM152.6 317.35H158.8V322.5H152.6zM165 317.35H171.2V322.5H165zM258 317.35H264.2V322.5H258zM431.6 322.5H437.8V327.65H431.6zM413 327.65H419.2V332.8H413zM75 332.8H78.2V337.95H75zM258 332.8H264.2V337.95H258zM394.4 332.8H400.6V337.95H394.4zM90.6 337.95H96.8V343.09H90.6zM344.8 343.09H351V348.24H344.8zM437.8 343.09H444V348.24H437.8zM258 353.39H264.2V358.54H258zM431.6 353.39H437.8V358.54H431.6zM220.8 358.54H227V363.69H220.8zM264.2 358.54H270.4V363.69H264.2zM481.2 358.54H487.4V363.69H481.2zM487.4 363.69H493.6V368.84H487.4zM320 368.84H326.2V373.99H320zM301.4 379.14H307.6V384.29H301.4zM487.4 379.14H493.6V384.29H487.4z"/>
<path fill="#8605fb" d="M134 209.22H140.2V214.37H134zM96.8 214.37H103V219.52H96.8zM96.8 224.67H103V229.82H96.8zM388.2 229.82H394.4V234.97H388.2zM134 234.97H140.2V240.12H134zM158.8 276.16H165V281.31H158.8zM158.8 281.31H165V286.46H158.8zM264.2 291.61H270.4V296.75H264.2zM375.8 296.75H382V301.9H375.8zM518.4 301.9H524V307.05H518.4zM406.8 307.05H413V312.2H406.8zM512.2 307.05H518.4V312.2H512.2zM413 312.2H419.2V317.35H413zM431.6 317.35H437.8V322.5H431.6zM332.4 322.5H338.6V327.65H332.4zM518.4 322.5H524V327.65H518.4zM406.8 327.65H413V332.8H406.8zM84.4 332.8H90.6V337.95H84.4zM258 337.95H264.2V343.09H258zM90.6 343.09H96.8V348.24H90.6zM258 343.09H264.2V348.24H258zM165 348.24H171.2V353.39H165zM326.2 363.69H332.4V368.84H326.2zM487.4 368.84H493.6V373.99H487.4zM270.4 373.99H276.6V379.14H270.4zM307.6 373.99H313.8V379.14H307.6zM487.4 373.99H493.6V379.14H487.4z"/>
<path fill="#8a06f6" d="M413 58H419.2V59.9H413zM450.2 58H456.4V59.9H450.2zM437.8 59.9H444V65.05H437.8zM413 65.05H419.2V70.2H413zM251.8 198.92H258V204.07H251.8zM103 224.67H109.2V229.82H103zM152.6 229.82H158.8V234.97H152.6zM115.4 234.97H121.6V240.12H115.4zM152.6 234.97H158.8V240.12H152.6zM140.2 240.12H146.4V245.26H140.2zM152.6 240.12H158.8V245.26H152.6zM146.4 245.26H152.6V250.41H146.4zM127.8 276.16H134V281.31H127.8zM140.2 286.46H152.6V291.61H140.2zM282.8 291.61H289V296.75H282.8zM388.2 291.61H394.4V296.75H388.2zM400.6 291.61H406.8V296.75H400.6zM251.8 301.9H258V307.05H251.8zM78.2 307.05H84.4V312.2H78.2zM258 312.2H264.2V317.35H258zM158.8 317.35H165V322.5H158.8zM171.2 332.8H177.4V337.95H171.2zM214.6 332.8H220.8V337.95H214.6zM214.6 337.95H220.8V343.09H214.6zM344.8 337.95H351V343.09H344.8zM369.6 337.95H388.2V343.09H369.6zM165 343.09H171.2V348.24H165zM214.6 343.09H220.8V348.24H214.6zM214.6 348.24H220.8V353.39H214.6zM258 348.24H264.2V353.39H258zM431.6 348.24H437.8V353.39H431.6zM84.4 353.39H90.6V358.54H84.4zM158.8 353.39H165V358.54H158.8zM338.6 353.39H344.8V358.54H338.6zM444 353.39H450.2V358.54H444zM90.6 358.54H96.8V363.69H90.6zM270.4 358.54H276.6V363.69H270.4zM270.4 363.69H276.6V368.84H270.4zM276.6 379.14H282.8V384.29H276.6z"/>
<path fill="#8d07f0" d="M413 59.9H419.2V65.05H413zM431.6 65.05H437.8V70.2H431.6zM146.4 214.37H152.6V219.52H146.4zM388.2 245.26H394.4V250.41H388.2zM146.4 276.16H152.6V281.31H146.4zM152.6 281.31H158.8V286.46H152.6zM75 307.05H78.2V312.2H75zM84.4 307.05H90.6V312.2H84.4zM258 307.05H264.2V312.2H258zM289 312.2H295.2V317.35H289zM413 317.35H419.2V322.5H413zM264.2 322.5H270.4V327.65H264.2zM326.2 322.5H332.4V327.65H326.2zM357.2 322.5H363.4V327.65H357.2zM90.6 332.8H96.8V337.95H90.6zM165 337.95H171.2V343.09H165zM363.4 337.95H369.6V343.09H363.4zM90.6 348.24H96.8V353.39H90.6zM96.8 358.54H115.4V363.69H96.8zM171.2 415.18H177.4V419H171.2z"/>
<path fill="#9008e7" d="M127.8 214.37H134V219.52H127.8zM109.2 219.52H115.4V224.67H109.2zM134 229.82H140.2V234.97H134zM394.4 234.97H400.6V240.12H394.4zM134 276.16H140.2V281.31H134zM152.6 276.16H158.8V281.31H152.6zM258 291.61H264.2V296.75H258zM264.2 296.75H270.4V301.9H264.2zM400.6 301.9H406.8V307.05H400.6zM109.2 307.05H115.4V312.2H109.2zM363.4 307.05H369.6V312.2H363.4zM264.2 312.2H270.4V317.35H264.2zM406.8 312.2H413V317.35H406.8zM518.4 317.35H524V322.5H518.4zM320 322.5H326.2V327.65H320zM264.2 327.65H270.4V332.8H264.2zM400.6 327.65H406.8V332.8H400.6zM220.8 337.95H227V343.09H220.8zM351 337.95H363.4V343.09H351zM338.6 343.09H344.8V348.24H338.6zM444 343.09H450.2V348.24H444zM338.6 348.24H344.8V353.39H338.6zM264.2 353.39H270.4V358.54H264.2zM437.8 353.39H444V358.54H437.8zM84.4 358.54H90.6V363.69H84.4zM326.2 358.54H332.4V363.69H326.2z"/>
<path fill="#9309dd" d="M363.4 188.62H369.6V193.77H363.4zM103 214.37H109.2V219.52H103zM115.4 219.52H127.8V224.67H115.4zM140.2 234.97H146.4V240.12H140.2zM388.2 240.12H394.4V245.26H388.2zM146.4 281.31H152.6V286.46H146.4zM251.8 296.75H264.2V301.9H251.8zM258 301.9H264.2V307.05H258zM369.6 301.9H375.8V307.05H369.6zM96.8 307.05H109.2V312.2H96.8zM115.4 307.05H121.6V312.2H115.4zM289 307.05H295.2V312.2H289zM400.6 307.05H406.8V312.2H400.6zM264.2 317.35H270.4V322.5H264.2zM289 317.35H295.2V322.5H289zM363.4 317.35H369.6V322.5H363.4zM425.4 317.35H431.6V322.5H425.4zM127.8 322.5H146.4V327.65H127.8zM295.2 322.5H301.4V327.65H295.2zM419.2 322.5H431.6V327.65H419.2zM75 327.65H90.6V332.8H75zM171.2 327.65H177.4V332.8H171.2zM344.8 327.65H357.2V332.8H344.8zM264.2 332.8H270.4V337.95H264.2zM96.8 337.95H103V343.09H96.8zM338.6 337.95H344.8V343.09H338.6zM264.2 343.09H270.4V348.24H264.2zM158.8 348.24H165V353.39H158.8zM220.8 348.24H227V353.39H220.8zM320 363.69H326.2V368.84H320zM313.8 368.84H320V373.99H313.8zM301.4 373.99H307.6V379.14H301.4z"/>
<path fill="#960bd1" d="M127.8 219.52H134V224.67H127.8zM121.6 224.67H127.8V229.82H121.6zM121.6 229.82H127.8V234.97H121.6zM388.2 234.97H394.4V240.12H388.2zM140.2 276.16H146.4V281.31H140.2zM289 291.61H295.2V296.75H289zM400.6 296.75H406.8V301.9H400.6zM90.6 307.05H96.8V312.2H90.6zM264.2 307.05H270.4V312.2H264.2zM518.4 307.05H524V312.2H518.4zM78.2 312.2H84.4V317.35H78.2zM419.2 317.35H425.4V322.5H419.2zM146.4 322.5H152.6V327.65H146.4zM307.6 322.5H320V327.65H307.6zM363.4 322.5H369.6V327.65H363.4zM357.2 327.65H369.6V332.8H357.2zM220.8 343.09H227V348.24H220.8zM264.2 348.24H270.4V353.39H264.2zM437.8 348.24H450.2V353.39H437.8zM134 353.39H146.4V358.54H134zM103 363.69H109.2V368.84H103zM276.6 373.99H282.8V379.14H276.6z"/>
<path fill="#990cc3" d="M140.2 214.37H146.4V219.52H140.2zM96.8 219.52H103V224.67H96.8zM115.4 224.67H121.6V229.82H115.4zM127.8 224.67H134V229.82H127.8zM115.4 229.82H121.6V234.97H115.4zM127.8 229.82H134V234.97H127.8zM109.2 234.97H115.4V240.12H109.2zM146.4 240.12H152.6V245.26H146.4zM140.2 245.26H146.4V250.41H140.2zM239.4 276.16H245.6V281.31H239.4zM394.4 291.61H400.6V296.75H394.4zM270.4 296.75H276.6V301.9H270.4zM75 312.2H78.2V317.35H75zM518.4 312.2H524V317.35H518.4zM84.4 317.35H90.6V322.5H84.4zM406.8 317.35H413V322.5H406.8zM301.4 322.5H307.6V327.65H301.4zM90.6 327.65H96.8V332.8H90.6zM338.6 327.65H344.8V332.8H338.6zM165 332.8H171.2V337.95H165zM344.8 332.8H357.2V337.95H344.8zM382 332.8H388.2V337.95H382zM96.8 343.09H103V348.24H96.8zM121.6 353.39H134V358.54H121.6zM332.4 353.39H338.6V358.54H332.4zM295.2 379.14H301.4V384.29H295.2zM351 415.18H357.2V419H351z"/>
<path fill="#9c0db4" d="M444 58H450.2V59.9H444zM357.2 188.62H363.4V193.77H357.2zM146.4 219.52H152.6V224.67H146.4zM109.2 224.67H115.4V229.82H109.2zM134 224.67H140.2V229.82H134zM109.2 229.82H115.4V234.97H109.2zM146.4 234.97H152.6V240.12H146.4zM382 296.75H388.2V301.9H382zM75 317.35H84.4V322.5H75zM270.4 317.35H276.6V322.5H270.4zM75 322.5H84.4V327.65H75zM171.2 322.5H177.4V327.65H171.2zM270.4 322.5H276.6V327.65H270.4zM413 322.5H419.2V327.65H413zM394.4 327.65H400.6V332.8H394.4zM264.2 337.95H270.4V343.09H264.2zM270.4 353.39H276.6V358.54H270.4zM326.2 353.39H332.4V358.54H326.2zM276.6 358.54H282.8V363.69H276.6zM320 358.54H326.2V363.69H320zM276.6 363.69H282.8V368.84H276.6zM307.6 368.84H313.8V373.99H307.6z"/>
<path fill="#9f0fa4" d="M425.4 65.05H431.6V70.2H425.4zM84.4 322.5H90.6V327.65H84.4zM152.6 322.5H158.8V327.65H152.6zM357.2 332.8H363.4V337.95H357.2zM146.4 353.39H152.6V358.54H146.4z"/>
<path fill="#a21192" d="M431.6 59.9H437.8V65.05H431.6zM134 214.37H140.2V219.52H134zM146.4 224.67H152.6V229.82H146.4zM146.4 229.82H152.6V234.97H146.4zM276.6 296.75H282.8V301.9H276.6zM121.6 307.05H127.8V312.2H121.6zM103 312.2H109.2V317.35H103zM121.6 322.5H127.8V327.65H121.6zM406.8 322.5H413V327.65H406.8zM270.4 327.65H276.6V332.8H270.4zM332.4 327.65H338.6V332.8H332.4zM375.8 332.8H382V337.95H375.8zM388.2 337.95H394.4V343.09H388.2zM115.4 353.39H121.6V358.54H115.4zM276.6 353.39H282.8V358.54H276.6zM177.4 415.18H183.6V419H177.4z"/>
<path fill="#a5127f" d="M419.2 65.05H425.4V70.2H419.2zM406.8 101.09H413V106.24H406.8zM245.6 281.31H251.8V286.46H245.6zM109.2 312.2H115.4V317.35H109.2zM121.6 317.35H127.8V322.5H121.6zM90.6 322.5H96.8V327.65H90.6zM158.8 322.5H165V327.65H158.8zM158.8 343.09H165V348.24H158.8zM90.6 353.39H96.8V358.54H90.6zM103 353.39H109.2V358.54H103zM282.8 353.39H289V358.54H282.8z"/>
<path fill="#a7146c" d="M103 219.52H109.2V224.67H103zM282.8 296.75H289V301.9H282.8zM96.8 312.2H103V317.35H96.8zM338.6 332.8H344.8V337.95H338.6zM363.4 332.8H375.8V337.95H363.4zM96.8 353.39H103V358.54H96.8z"/>
<path fill="#aa1657" d="M140.2 219.52H146.4V224.67H140.2zM388.2 296.75H394.4V301.9H388.2zM375.8 301.9H382V307.05H375.8zM84.4 312.2H90.6V317.35H84.4zM363.4 312.2H369.6V317.35H363.4zM289 322.5H295.2V327.65H289zM134 327.65H140.2V332.8H134zM96.8 332.8H103V337.95H96.8zM270.4 337.95H276.6V343.09H270.4zM332.4 337.95H338.6V343.09H332.4zM109.2 353.39H115.4V358.54H109.2zM152.6 353.39H158.8V358.54H152.6zM282.8 379.14H289V384.29H282.8z"/>
<path fill="#ad1942" d="M369.6 307.05H375.8V312.2H369.6zM90.6 312.2H96.8V317.35H90.6zM369.6 317.35H375.8V322.5H369.6zM400.6 322.5H406.8V327.65H400.6zM121.6 327.65H134V332.8H121.6zM140.2 327.65H152.6V332.8H140.2zM127.8 332.8H134V337.95H127.8zM270.4 332.8H276.6V337.95H270.4zM158.8 337.95H165V343.09H158.8zM270.4 348.24H276.6V353.39H270.4zM332.4 348.24H338.6V353.39H332.4zM320 353.39H326.2V358.54H320zM313.8 363.69H320V368.84H313.8zM301.4 368.84H307.6V373.99H301.4zM289 379.14H295.2V384.29H289z"/>
<path fill="#af1b2c" d="M437.8 58H444V59.9H437.8zM258 286.46H264.2V291.61H258zM264.2 301.9H270.4V307.05H264.2zM115.4 312.2H121.6V317.35H115.4zM282.8 317.35H289V322.5H282.8zM165 322.5H171.2V327.65H165zM165 327.65H171.2V332.8H165zM382 327.65H394.4V332.8H382zM158.8 332.8H165V337.95H158.8zM276.6 332.8H282.8V337.95H276.6zM388.2 332.8H394.4V337.95H388.2zM127.8 348.24H134V353.39H127.8zM146.4 348.24H152.6V353.39H146.4z"/>
<path fill="#b21d16" d="M295.2 327.65H301.4V332.8H295.2zM307.6 327.65H313.8V332.8H307.6zM326.2 327.65H332.4V332.8H326.2zM140.2 332.8H146.4V337.95H140.2zM121.6 348.24H127.8V353.39H121.6zM140.2 348.24H146.4V353.39H140.2zM152.6 348.24H158.8V353.39H152.6z"/>
<path fill="#b42000" d="M320 327.65H326.2V332.8H320zM152.6 343.09H158.8V348.24H152.6z"/>
<path fill="#b72300" d="M140.2 229.82H146.4V234.97H140.2zM251.8 286.46H258V291.61H251.8zM270.4 301.9H276.6V307.05H270.4zM152.6 327.65H158.8V332.8H152.6zM289 327.65H295.2V332.8H289zM301.4 327.65H307.6V332.8H301.4zM313.8 327.65H320V332.8H313.8zM121.6 332.8H127.8V337.95H121.6zM152.6 337.95H158.8V343.09H152.6zM134 348.24H140.2V353.39H134z"/>
<path fill="#b92500" d="M289 296.75H295.2V301.9H289zM394.4 307.05H400.6V312.2H394.4zM394.4 312.2H400.6V317.35H394.4zM103 317.35H109.2V322.5H103zM394.4 322.5H400.6V327.65H394.4zM134 332.8H140.2V337.95H134zM326.2 332.8H338.6V337.95H326.2zM134 337.95H152.6V343.09H134zM326.2 343.09H332.4V348.24H326.2zM96.8 348.24H103V353.39H96.8zM109.2 348.24H121.6V353.39H109.2zM313.8 358.54H320V363.69H313.8zM276.6 368.84H282.8V373.99H276.6z"/>
<path fill="#bc2900" d="M134 219.52H140.2V224.67H134zM140.2 224.67H146.4V229.82H140.2zM394.4 296.75H400.6V301.9H394.4zM276.6 301.9H289V307.05H276.6zM382 301.9H388.2V307.05H382zM394.4 301.9H400.6V307.05H394.4zM121.6 312.2H127.8V317.35H121.6zM90.6 317.35H103V322.5H90.6zM109.2 317.35H115.4V322.5H109.2zM375.8 317.35H382V322.5H375.8zM282.8 322.5H289V327.65H282.8zM369.6 322.5H375.8V327.65H369.6zM158.8 327.65H165V332.8H158.8zM276.6 327.65H282.8V332.8H276.6zM375.8 327.65H382V332.8H375.8zM282.8 332.8H289V337.95H282.8zM326.2 337.95H332.4V343.09H326.2zM282.8 343.09H289V348.24H282.8zM313.8 343.09H320V348.24H313.8zM103 348.24H109.2V353.39H103zM276.6 348.24H289V353.39H276.6zM326.2 348.24H332.4V353.39H326.2zM307.6 363.69H313.8V368.84H307.6zM282.8 373.99H289V379.14H282.8zM295.2 373.99H301.4V379.14H295.2z"/>
<path fill="#be2c00" d="M431.6 58H437.8V59.9H431.6zM419.2 59.9H431.6V65.05H419.2zM289 301.9H295.2V307.05H289zM388.2 301.9H394.4V307.05H388.2zM388.2 312.2H394.4V317.35H388.2zM382 317.35H394.4V322.5H382zM375.8 322.5H382V327.65H375.8zM282.8 327.65H289V332.8H282.8zM320 332.8H326.2V337.95H320zM146.4 343.09H152.6V348.24H146.4zM270.4 343.09H276.6V348.24H270.4zM320 343.09H326.2V348.24H320zM332.4 343.09H338.6V348.24H332.4zM320 348.24H326.2V353.39H320zM301.4 363.69H307.6V368.84H301.4zM289 373.99H295.2V379.14H289z"/>
<path fill="#c02f00" d="M375.8 307.05H382V312.2H375.8zM115.4 317.35H121.6V322.5H115.4zM295.2 332.8H320V337.95H295.2zM282.8 337.95H289V343.09H282.8zM320 337.95H326.2V343.09H320zM140.2 343.09H146.4V348.24H140.2zM313.8 348.24H320V353.39H313.8zM313.8 353.39H320V358.54H313.8z"/>
<path fill="#c33300" d="M270.4 307.05H276.6V312.2H270.4zM400.6 317.35H406.8V322.5H400.6zM388.2 322.5H394.4V327.65H388.2zM369.6 327.65H375.8V332.8H369.6zM146.4 332.8H158.8V337.95H146.4zM276.6 337.95H282.8V343.09H276.6zM127.8 343.09H140.2V348.24H127.8zM276.6 343.09H282.8V348.24H276.6zM307.6 358.54H313.8V363.69H307.6zM282.8 368.84H289V373.99H282.8zM295.2 368.84H301.4V373.99H295.2z"/>
<path fill="#c53600" d="M382 307.05H388.2V312.2H382zM369.6 312.2H375.8V317.35H369.6zM96.8 322.5H109.2V327.65H96.8zM382 322.5H388.2V327.65H382zM115.4 327.65H121.6V332.8H115.4zM103 332.8H121.6V337.95H103zM289 337.95H295.2V343.09H289zM103 343.09H109.2V348.24H103zM121.6 343.09H127.8V348.24H121.6zM295.2 343.09H313.8V348.24H295.2zM282.8 363.69H289V368.84H282.8zM289 368.84H295.2V373.99H289z"/>
<path fill="#c73a00" d="M289 332.8H295.2V337.95H289z"/>
<path fill="#ca3e00" d="M251.8 291.61H258V296.75H251.8zM115.4 337.95H121.6V343.09H115.4zM115.4 343.09H121.6V348.24H115.4z"/>
<path fill="#cc4200" d="M276.6 307.05H289V312.2H276.6zM388.2 307.05H394.4V312.2H388.2zM394.4 317.35H400.6V322.5H394.4zM295.2 348.24H307.6V353.39H295.2zM282.8 358.54H289V363.69H282.8z"/>
<path fill="#d04c00" d="M419.2 58H431.6V59.9H419.2zM270.4 312.2H276.6V317.35H270.4zM109.2 322.5H115.4V327.65H109.2zM109.2 337.95H115.4V343.09H109.2zM127.8 337.95H134V343.09H127.8zM301.4 337.95H313.8V343.09H301.4zM109.2 343.09H115.4V348.24H109.2zM301.4 358.54H307.6V363.69H301.4z"/>
<path fill="#d25000" d="M313.8 337.95H320V343.09H313.8z"/>
<path fill="#d45500" d="M400.6 312.2H406.8V317.35H400.6zM295.2 337.95H301.4V343.09H295.2z"/>
<path fill="#d75b00" d="M289 343.09H295.2V348.24H289zM295.2 363.69H301.4V368.84H295.2z"/>
<path fill="#d96000" d="M375.8 312.2H382V317.35H375.8z"/>
<path fill="#db6600" d="M276.6 312.2H282.8V317.35H276.6zM382 312.2H388.2V317.35H382zM103 337.95H109.2V343.09H103zM307.6 353.39H313.8V358.54H307.6z"/>
<path fill="#dd6c00" d="M115.4 322.5H121.6V327.65H115.4z"/>
<path fill="#df7200" d="M282.8 312.2H289V317.35H282.8zM121.6 337.95H127.8V343.09H121.6zM289 348.24H295.2V353.39H289zM301.4 353.39H307.6V358.54H301.4zM295.2 358.54H301.4V363.69H295.2zM289 363.69H295.2V368.84H289z"/>
<path fill="#e17800" d="M103 327.65H109.2V332.8H103z"/>
<path fill="#e37f00" d="M96.8 327.65H103V332.8H96.8zM295.2 353.39H301.4V358.54H295.2z"/>
<path fill="#e58500" d="M307.6 348.24H313.8V353.39H307.6z"/>
<path fill="#e78c00" d="M109.2 327.65H115.4V332.8H109.2z"/>
<path fill="#eb9b00" d="M289 358.54H295.2V363.69H289z"/>
<path fill="#eda300" d="M276.6 317.35H282.8V322.5H276.6z"/>
<path fill="#fae000" d="M276.6 322.5H282.8V327.65H276.6zM289 353.39H295.2V358.54H289z"/>
</g>
<g fill="none" stroke="#0a96ff" stroke-width="1" shape-rendering="crispEdges">
<path d="M77 97.5 81.5 99 86 102 83.5 105 79.5 104 76 105.5M173.5 97.5 169.5 98.5 164 100 159.5 98.5 154.5 97.5 149 96.5 144.5 95.5 138.5 94 134 95.5 128.5 96.5 121 95 114.5 94 108 92.5 102 93 96.5 95.5 93 97.5 92 99 97.5 100 91 103 99.5 106 95.5 107.5 93.5 110.5 94 114 97.5 117.5 102 119 97.5 125.5 104 121.5 108.5 117 112.5 114 114.5 113 119 114 124.5 115 130 117 134 120 137 123.5 139.5 127.5 141.5 131 143.5 135 146 139.5 144.5 142.5 145 147M77 132.5 79.5 132M82.5 131 85 130M90 128 92 127.5M146 87 149 85 152 87 151 91 147 91.5 146 87M152 90 156.5 89 164 90 169.5 91.5 173.5 94.5 171.5 97.5 166 98 159.5 96.5 154.5 93.5 152 90M149 80.5 153 79.5 155.5 81.5 151 82.5 149 80.5M156.5 81.5 162 80.5 167 83 162 85 157.5 84 156.5 81.5M169.5 76 174.5 76.5 177 79.5 176 82.5 172.5 80.5 169.5 76M146 102 151 101 153.5 103 149 105 146 102M149 106.5 154.5 109.5 159.5 111.5 164 110.5 160 112.5 153.5 112.5 149 106.5M159.5 118 166 116.5 171.5 118 174.5 122.5 177 121M181 79.5 183.5 82.5 182 85 179 82.5 181 79.5M175 87 177 90 174.5 91 175 87M220 70 228 69 239 68 252 66.5 263.5 67.5 269 68 268 71 276.5 71.5 283 71 276.5 75 273.5 77.5 274.5 80.5 272 83 269 87 272 90 266 91.5 267 94.5 261.5 97.5 257 99 251 103 248.5 106.5 246.5 110.5 245 114 240 113 237 108.5 234.5 104 232 99 235 97.5 235 92.5 232 91.5 230.5 87 227 83 220 81.5 214.5 80.5 212 78.5 215.5 76.5 220 75 219.5 71 220 70M271 103.5 274.5 102 280 102 280.5 105 278 107 273.5 107 271 103.5M187.5 71 194 70 203.5 68 213 68 219.5 69 220 71 214.5 74 209 73 212 76 205 76.5 201.5 79.5 195 80.5 192 78.5 198 76 194 75 196 73 190 73 187.5 71M192 88 197 87 201.5 89 206 91 211 94.5 214.5 97.5 220 99 221 102 217.5 104 219.5 106.5 214.5 109.5 210 107.5 206 106.5 204.5 104 208 102 213 101 209 98 205 95.5 201.5 93.5 197 92.5 193 91.5 192 88M164 117 168.5 117.5 172.5 118.5 173.5 122.5 177 121M183 94.5 188.5 96.5 192 99 197 97.5 201.5 94.5M191 101 188.5 105 184.5 109.5 181 115 181 118 184.5 121 190 123.5 194 127.5 198.5 131 201.5 132 204.5 128 204 122.5 202.5 117 203.5 112.5 206 111.5 209 113 212 116 214.5 119 217.5 117 220 118 223 122.5 226 126.5 228.5 130 230.5 135 232.5 140.5 234 143M194 105 197 108.5 194 109.5 194 105M176 128 177 132 178 135 177 131 176 128M181 136.5 183.5 134M185.5 139.5 189.5 137.5 192 140.5 195 145 192 144 188.5 141.5 185.5 139.5M206 146.5 211 142.5 215.5 139.5 220 136.5 225 135 228.5 132M227 136.5 229.5 134 231.5 137.5 229.5 141.5 227 139.5 227 136.5M214.5 141.5 218.5 139.5 220 142.5 224 140.5M169.5 76 173.5 76.5 176 79.5 174.5 82.5 171.5 79.5 169.5 76M177 77.5 180 78.5 179 81.5 177 77.5M172.5 87 175 86 177 89 175 91.5 172.5 90 172.5 87M182 87 184.5 86 183.5 89 182 87M164 97.5 169.5 96.5 173.5 94.5 170.5 99 166 100 164 99M179 92.5 183 91.5 184.5 94.5 182 97.5 179 95.5 179 92.5M183 81 190 80.5 198.5 81.5 200.5 83.5 194 85 186.5 85 183 81M316 76 321.5 75 329 75 334.5 74.5 328 76 330 79 324.5 79.5 320.5 81.5 318.5 77.5 316 76M353.5 74 358 73.5 362 74M377 72.5 380.5 72.5M365.5 90 369.5 86 376 83 381.5 81.5 385 80.5 380.5 83 375 86 370 89 367.5 91.5 371 93.5 366.5 91.5 365.5 90M306.5 117 307.5 113 310 108.5 314 104 318 100 322.5 97 328 94.5 334.5 93.5 338.5 95.5 342 97.5 347 99 351.5 101.5 348 102.5 341 102 344 106 349.5 106 354.5 103 356 98.5 357 102.5 363 99 369.5 98 376 97.5 381.5 96.5 385 94.5 386 91.5 390 91 392 94.5 393 97.5 390 100 386 102 391 101 394.5 98 397.5 100.5 395.5 97 393.5 93.5 396.5 91 401 89 404 88.5M306.5 117 309.5 120 314 119 318 122.5 321.5 120 323.5 115 322.5 110.5 326 107.5 329 105 327.5 109.5 327 113 330 116 335.5 116.5 332 120 327 122.5 321.5 126.5 317 128 314 124.5 311 123 308.5 125.5 307.5 129 305.5 132 302 136 297 138 294.5 138.5 296 141.5 298 146M291.5 119 294.5 118.5 296 121.5 295 124.5 298 128 300 132 301 134 297 135 294.5 134 296 131 293.5 129 294.5 125.5 291.5 122.5 291.5 119M288 127.5 290.5 125.5 292.5 128 289.5 131 287.5 130 288 127.5M297 113 298.5 115M404 88 408 85 412.5 83 418 82.5 423.5 81 427.5 79.5 432 81.5 438 83 434 86 441.5 86.5 449 87 456.5 87.5 459.5 91 463 92 468.5 91 475 90 483 90.5 488.5 91.5 494 93 501.5 94 509 94.5 516.5 95.5 524 97M415 74 419 73 423 75 419 76.5 416 76 415 74M426 75 426.5 78.5M470.5 83 474.5 82.5 479 83 483.5 85 479 85 475 85 475 87M524 105 521 109.5 516.5 112.5 511 114 505 115 503.5 111.5 502.5 117 500.5 122.5 498 127.5 494 133 493.5 128 493.5 122.5 494 117 495 111.5 492 115 486.5 116.5 481 117.5 476 118 472.5 121.5 469.5 127.5 472.5 129 475 131 474.5 136 472.5 140.5 469.5 144 468 147M476 126.5 477 132 477.5 137.5 477 143 476 147 475 139.5 475.5 132 476 126.5M513.5 129 513.5 130M519.5 131.5 519.5 132.5M145 137 144.5 142.5 145 148 146 155 149 161.5 152 167 153.5 171.5 155.5 177.5 159.5 183 164 188.5 168 193 170.5 198 173.5 201.5 178 204.5 183 207.5 187.5 211 192 215 196 219.5 200.5 221.5 203.5 223 204.5 227M157.5 176.5 159.5 177.5 162 183 163.5 187.5 162 188.5 159.5 184 157 178.5 157.5 176.5M184.5 139 188.5 141 192 140 196 144.5 194 147.5 190 145.5 187.5 141.5 184.5 139M197 150 199.5 149M216.5 141 214.5 142.5 209 145.5 203.5 147.5 198.5 150M214.5 142.5 213 148 210 154 207 158.5 205 161.5 206 159.5 204 165 201 170 199.5 173.5 199 177.5 200 182 198 179 195 177.5 190 176 186.5 178 182 179 179 183 178.5 188.5 179 193 181 196.5 184.5 199 189.5 197.5 191 194 195 193 196 194 192 196 190 200 190 203.5 192 206.5 195 209 196 213 197 216.5 198.5 219.5 202.5 221.5 205 218.5 208 216 211 215 213 216.5 216.5 217 221 219.5 226 222.5 229.5 225 231.5 227M216.5 141 219.5 139 222 141.5 220 144.5 224 143.5M227 137 228 141 231.5 142.5 232.5 139 232 137M195 193 199.5 195 204.5 196.5 207.5 198M206 201.5 209 200.5 213 199.5M216 201 217 201.5M202 203 203 203M202.5 187 205 188.5M159 151.5 159.5 152M295 137 298 141 296 145.5 292 148 289.5 153 289 156.5 290 160.5 292 163 297 162.5 299.5 159 301.5 155 304.5 151 308 149 312 151 316.5 154 317.5 148 319.5 147.5 322 151 325 156 323 157.5 320 155 318.5 151 317.5 148M325 156 327 160.5 328.5 162.5 329.5 157.5 328.5 156.5 332.5 156 335 160.5 339 164 343 166 345 167 343 170 342 173.5 340 175.5M336 146.5 343 144.5 349.5 142 350 147.5 349.5 153 346.5 156 341 155 336 154 333.5 156 336 151 336 146.5M360.5 144.5 362.5 142.5 364.5 143.5 365 148 366 155 367 159.5 363.5 160.5 361 156 360 150 360.5 144.5M374 144.5 376 143.5 375.5 147.5 374 148 374 144.5M292 165 298 163.5 303.5 163 309 162.5 313 163 313.5 168 316.5 171 320 172.5 323 175.5 326 176.5 328.5 172.5 332.5 173.5 336 174.5 340 175.5M292 165 290 169 287.5 174.5 284.5 180 282 186 280 191.5 279 197 278.5 202.5 279.5 209 281 214 282 218.5 284.5 223 287.5 226M340 175.5 341 180 343 186 344.5 191.5 346.5 197 348.5 202.5 350 208 352 214 354 215.5 358 216 362.5 214 363.5 216.5 362.5 221.5 361.5 227M341 177.5 343.5 182 346.5 186.5 348.5 192.5 350 199 352 204.5 355 209 358 211 361.5 208 366 205.5 370 201 372.5 196 373 192.5 369 191.5 366 189.5 364.5 186 363 183 361.5 179 363.5 182 366 185.5 371 186.5 376.5 187.5 380 189.5 384 192M310.5 155 311 156.5M316.5 160.5 318.5 160M329.5 166 330 166M391 147.5 398 143.5M394.5 152 394.5 152.5M473.5 137 470.5 142.5 466 148 461.5 153 459.5 158 457.5 164.5 456 166.5 454 159 449.5 156 445 159 449.5 162 450.5 170 450 177.5 448.5 183 447.5 187.5 442 190.5 435.5 193.5 434.5 198 434 205 433 211.5 431.5 217 428 213.5 424.5 210.5 423.5 217 424.5 224.5 426 233 424.5 225.5 424 218 423 211 420 205 415.5 199.5 411.5 193.5 406 200.5 400.5 207 394 220 390.5 207 388.5 197 384 193M399 220 400 223.5 398 226M477 138 478.5 146 479 150 475 152 474 160 472.5 166 467 167 463 169.5 461 172 463 168.5 465 164.5 470 161.5 473 156 473.5 149 475.5 142.5 477 138M450 200.5 452 201.5 452 208 450.5 209 449.5 205 450 200.5M454.5 219 456 223.5 453.5 225.5 451.5 223.5 454.5 219M447.5 217 449 215.5M194 218 198.5 221 203 221.5 205 218 209.5 217 216 218 222.5 220.5 228 223.5 232.5 229 235.5 235.5 240 241 246.5 245.5 252 250 256.5 255.5 255 262 252.5 268.5 250.5 276 248.5 282.5 245.5 286 241 289 238 293.5 235.5 300 233.5 306.5 230 312 227 316.5 223.5 322M204 221.5 202.5 230 200.5 239 199.5 247.5 201.5 256.5 205 265 209.5 274 211 280.5 211 289 210.5 298 210 306.5 209.5 315.5 208.5 322M281.5 217 286 223.5 291.5 227.5 298 228 303.5 227 308 230 311 238 314 247.5 315.5 256.5 316.5 265 317.5 274 318.5 282.5 320.5 291.5 322 300 323 308 325 311.5 328.5 310.5 334 309M208.5 315 208.5 327.5 208 341.5 211.5 349.5 213 351 218 351.5 214.5 348 213 343 216 334 221 324.5 228.5 315M226 344.5 227 345M77 399.5 86.5 399 97.5 398 103.5 399.5 96 401M77 412.5 89.5 412.5 105 413.5 114.5 414.5 111.5 405.5 109 399.5 113 395.5 121 393 130 391.5 141 390 149 389.5 157 390.5 164.5 392.5 174 389.5 183.5 388.5 193 389 202 388.5 208.5 387.5 213 385.5 215 379 218.5 373 223.5 370 226 371 223.5 377.5 224 385.5 226 393 221 397 211.5 396 197.5 398 202 401.5 211.5 404.5 224 406 239.5 406.5 255 405 261.5 402.5 257 399 244.5 398 232 399 225.5 401 236.5 403 249 401 261.5 399 269.5 394.5 274 391M208 383 211.5 381 214 385.5 210 387 208 383M264 395 274 390 284.5 386 294.5 382 300.5 379.5 304.5 383 317 383.5 331 383 345 381 357.5 376.5 365.5 374.5 375.5 376.5 386 381 390 382 398 379 406 375.5 418.5 374.5 430.5 374 443 374 455 375.5 467 374.5 479.5 376 491.5 379 503.5 382 512 385 508 391 503.5 397 501.5 403 508 407 516 409 524 410.5M503.5 397 512 396 524 398M314 247.5 315 258.5 316 271.5 318 285 320 298 323 308 325 311.5 329.5 310.5 333.5 308.5 337 303.5 340 296 343.5 287 345.5 278 348.5 268.5 349 258.5 350 250 353.5 241 356.5 233.5 360 226 362.5 217M340.5 238.5 341.5 245.5M360.5 264.5 359.5 273 358 281.5 355.5 290.5 354 282.5 354.5 276 358 269.5 360.5 264.5M394 218 396 220.5M399 221.5 399.5 226M417 226 423.5 233.5 431 244.5 425.5 244.5 420 234.5 417 226M421 217 423.5 223.5 426 232.5M445 224.5 447 230 445 239 442 244.5 436.5 241 440 232.5 445 224.5M431 251 436.5 252 441.5 254 434.5 254 431 251M462 241.5 468 243 475 243 480 251 486.5 259 480 256.5 473 252 466.5 247 462 241.5M441.5 288 443 283 446.5 278 451.5 273 455 269 460 268 464 262 468 264.5 471.5 272 474 266 476.5 261 479 267 481.5 274.5 485 283 489 291 489.5 297 488 304.5 485 311 483 314.5 479 317 475 316 471.5 311 466.5 306 461.5 302 456.5 304 450 307 444 306 442 299.5 441.5 288M479.5 323 483 324.5 481 326.5 479.5 323M514.5 308 517 313 519 319 516.5 316 514 311 514.5 308M512 322 514.5 326 511.5 329.5 508.5 333 510 328 512 322M503 279 504 280M522 272 522 273M101 193 103 194.5M104 196 105.5 197.5M84 266.5 86 266.5"/>
</g>
<g shape-rendering="crispEdges" fill="none" stroke="#000" stroke-width="1">
<rect x="74.5" y="57.5" width="450" height="362"/>
</g>
<defs><linearGradient id="cb" x1="0" y1="1" x2="0" y2="0"><stop offset="0.0000" stop-color="#000000"/><stop offset="0.0278" stop-color="#2a002c"/><stop offset="0.0556" stop-color="#3c0057"/><stop offset="0.0833" stop-color="#4a007f"/><stop offset="0.1111" stop-color="#5500a4"/><stop offset="0.1389" stop-color="#5f01c3"/><stop offset="0.1667" stop-color="#6801dd"/><stop offset="0.1944" stop-color="#7002f0"/><stop offset="0.2222" stop-color="#7803fb"/><stop offset="0.2500" stop-color="#8004ff"/><stop offset="0.2778" stop-color="#8605fb"/><stop offset="0.3056" stop-color="#8d07f0"/><stop offset="0.3333" stop-color="#9309dd"/><stop offset="0.3611" stop-color="#990cc3"/><stop offset="0.3889" stop-color="#9f0fa4"/><stop offset="0.4167" stop-color="#a5127f"/><stop offset="0.4444" stop-color="#aa1657"/><stop offset="0.4722" stop-color="#af1b2c"/><stop offset="0.5000" stop-color="#b42000"/><stop offset="0.5278" stop-color="#b92500"/><stop offset="0.5556" stop-color="#be2c00"/><stop offset="0.5833" stop-color="#c33300"/><stop offset="0.6111" stop-color="#c73a00"/><stop offset="0.6389" stop-color="#cc4200"/><stop offset="0.6667" stop-color="#d04c00"/><stop offset="0.6944" stop-color="#d45500"/><stop offset="0.7222" stop-color="#d96000"/><stop offset="0.7500" stop-color="#dd6c00"/><stop offset="0.7778" stop-color="#e17800"/><stop offset="0.8056" stop-color="#e58500"/><stop offset="0.8333" stop-color="#e99400"/><stop offset="0.8611" stop-color="#eda300"/><stop offset="0.8889" stop-color="#f0b300"/><stop offset="0.9167" stop-color="#f4c400"/><stop offset="0.9444" stop-color="#f8d700"/><stop offset="0.9722" stop-color="#fbea00"/><stop offset="1.0000" stop-color="#ffff00"/></linearGradient></defs>
<rect x="535.5" y="57.5" width="22" height="362" fill="url(#cb)" stroke="#000" stroke-width="1" shape-rendering="crispEdges"/>
<g stroke="#000" stroke-width="1" shape-rendering="crispEdges">
<path d="M536 379.5h5M557 379.5h-5"/><path d="M536 339.5h5M557 339.5h-5"/><path d="M536 299.5h5M557 299.5h-5"/><path d="M536 259.5h5M557 259.5h-5"/><path d="M536 218.5h5M557 218.5h-5"/><path d="M536 178.5h5M557 178.5h-5"/><path d="M536 138.5h5M557 138.5h-5"/><path d="M536 98.5h5M557 98.5h-5"/>
</g>
<g>
<text x="571" y="424.3">6.5</text>
<text x="571" y="384.08">7</text>
<text x="571" y="343.86">7.5</text>
<text x="571" y="303.63">8</text>
<text x="571" y="263.41">8.5</text>
<text x="571" y="223.19">9</text>
<text x="571" y="182.97">9.5</text>
<text x="571" y="142.74">10</text>
<text x="571" y="102.52">10.5</text>
<text x="571" y="62.3">11</text>
<text x="61.5" y="118.19" text-anchor="end">60</text>
<text x="61.5" y="159.56" text-anchor="end">40</text>
<text x="61.5" y="200.93" text-anchor="end">20</text>
<text x="61.5" y="242.3" text-anchor="end">0</text>
<text x="61.5" y="283.67" text-anchor="end">-20</text>
<text x="61.5" y="325.04" text-anchor="end">-40</text>
<text x="61.5" y="366.41" text-anchor="end">-60</text>
<text x="61.5" y="407.79" text-anchor="end">-80</text>
<text x="112" y="442" text-anchor="middle">-150</text>
<text x="174.5" y="442" text-anchor="middle">-100</text>
<text x="237" y="442" text-anchor="middle">-50</text>
<text x="299.5" y="442" text-anchor="middle">0</text>
<text x="362" y="442" text-anchor="middle">50</text>
<text x="424.5" y="442" text-anchor="middle">100</text>
<text x="487" y="442" text-anchor="middle">150</text>
<text x="297.5" y="31.8" text-anchor="middle">StdDev_VTEC / TECU 20170716_197.01800</text>
<text x="297.5" y="469.5" text-anchor="middle">Longitude / deg</text>
<text transform="translate(17.5,239) rotate(-90)" text-anchor="middle">Latitude / deg</text>
</g>
</svg>
</body></html>
